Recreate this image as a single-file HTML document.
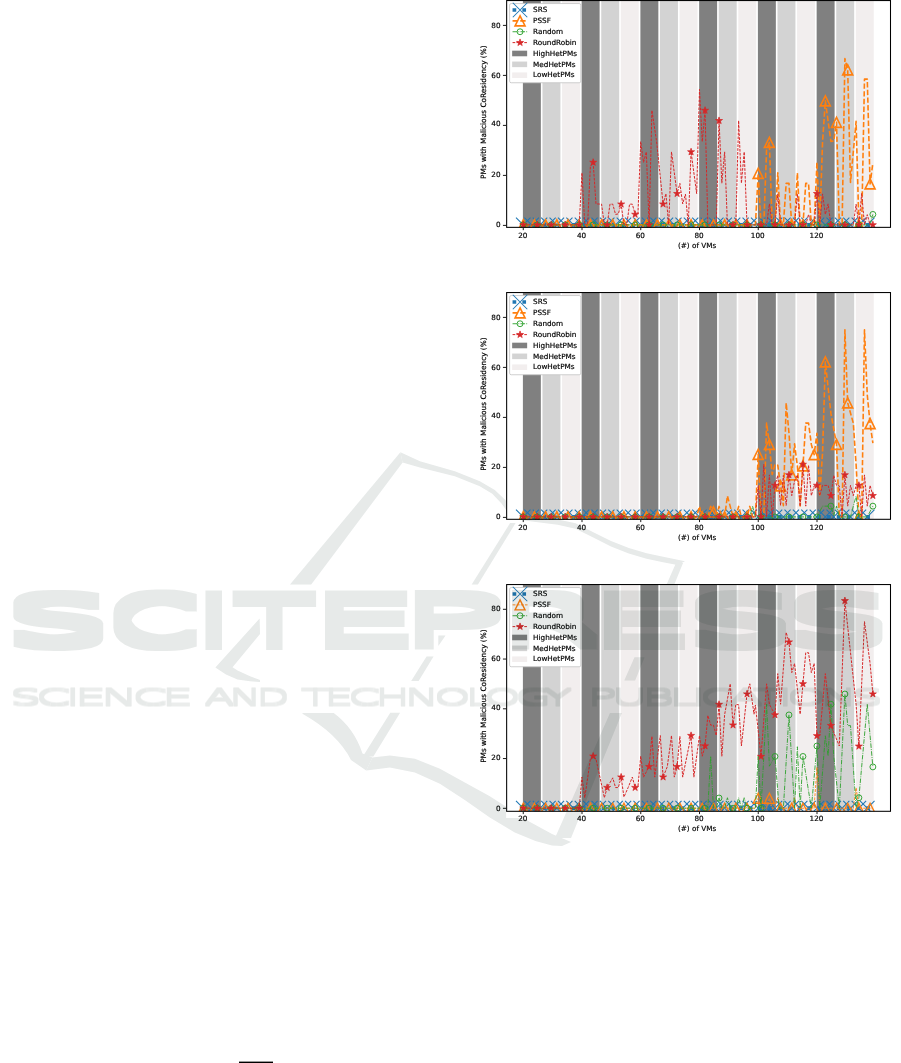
<!DOCTYPE html>
<html lang="en">
<head>
<meta charset="utf-8">
<title>Figure page</title>
<style>
html,body{margin:0;padding:0;background:#fff;}
body{width:901px;height:1063px;overflow:hidden;position:relative;}
svg{position:absolute;left:0;top:0;display:block;}
svg{font-family:"DejaVu Sans","Liberation Sans",sans-serif;font-size:7.25px;fill:#000;}
.wt{font-weight:200;}
.ct text{stroke:#000;stroke-width:0.18px;}
</style>
</head>
<body>
<svg width="901" height="1063" viewBox="0 0 901 1063">
<rect width="901" height="1063" fill="#fff"/>
<g id="chart1" class="ct">
<clipPath id="c1"><rect x="506.65" y="0.55" width="383.85" height="226.8"/></clipPath>
<g clip-path="url(#c1)">
<rect x="522.9" y="-1.45" width="17.95" height="228.8" fill="#808080"/>
<rect x="542.48" y="-1.45" width="17.95" height="228.8" fill="#d3d3d3"/>
<rect x="562.07" y="-1.45" width="17.95" height="228.8" fill="#f2eeee"/>
<rect x="581.65" y="-1.45" width="17.95" height="228.8" fill="#808080"/>
<rect x="601.23" y="-1.45" width="17.95" height="228.8" fill="#d3d3d3"/>
<rect x="620.82" y="-1.45" width="17.95" height="228.8" fill="#f2eeee"/>
<rect x="640.4" y="-1.45" width="17.95" height="228.8" fill="#808080"/>
<rect x="659.98" y="-1.45" width="17.95" height="228.8" fill="#d3d3d3"/>
<rect x="679.57" y="-1.45" width="17.95" height="228.8" fill="#f2eeee"/>
<rect x="699.15" y="-1.45" width="17.95" height="228.8" fill="#808080"/>
<rect x="718.73" y="-1.45" width="17.95" height="228.8" fill="#d3d3d3"/>
<rect x="738.32" y="-1.45" width="17.95" height="228.8" fill="#f2eeee"/>
<rect x="757.9" y="-1.45" width="17.95" height="228.8" fill="#808080"/>
<rect x="777.48" y="-1.45" width="17.95" height="228.8" fill="#d3d3d3"/>
<rect x="797.07" y="-1.45" width="17.95" height="228.8" fill="#f2eeee"/>
<rect x="816.65" y="-1.45" width="17.95" height="228.8" fill="#808080"/>
<rect x="836.23" y="-1.45" width="17.95" height="228.8" fill="#d3d3d3"/>
<rect x="855.82" y="-1.45" width="17.95" height="228.8" fill="#f2eeee"/>
<polyline points="523.25,224.9 872.88,224.9" fill="none" stroke="#1f77b4" stroke-width="3.7" stroke-dasharray="3.7 6.1" stroke-linejoin="round"/>
<path d="M516,217.65L530.5,232.15M516,232.15L530.5,217.65" stroke="#1f77b4" stroke-width="1.05" fill="none"/>
<path d="M524.39,217.65L538.89,232.15M524.39,232.15L538.89,217.65" stroke="#1f77b4" stroke-width="1.05" fill="none"/>
<path d="M532.78,217.65L547.28,232.15M532.78,232.15L547.28,217.65" stroke="#1f77b4" stroke-width="1.05" fill="none"/>
<path d="M541.17,217.65L555.67,232.15M541.17,232.15L555.67,217.65" stroke="#1f77b4" stroke-width="1.05" fill="none"/>
<path d="M549.56,217.65L564.06,232.15M549.56,232.15L564.06,217.65" stroke="#1f77b4" stroke-width="1.05" fill="none"/>
<path d="M557.96,217.65L572.46,232.15M557.96,232.15L572.46,217.65" stroke="#1f77b4" stroke-width="1.05" fill="none"/>
<path d="M566.35,217.65L580.85,232.15M566.35,232.15L580.85,217.65" stroke="#1f77b4" stroke-width="1.05" fill="none"/>
<path d="M574.74,217.65L589.24,232.15M574.74,232.15L589.24,217.65" stroke="#1f77b4" stroke-width="1.05" fill="none"/>
<path d="M583.13,217.65L597.63,232.15M583.13,232.15L597.63,217.65" stroke="#1f77b4" stroke-width="1.05" fill="none"/>
<path d="M591.52,217.65L606.02,232.15M591.52,232.15L606.02,217.65" stroke="#1f77b4" stroke-width="1.05" fill="none"/>
<path d="M599.91,217.65L614.41,232.15M599.91,232.15L614.41,217.65" stroke="#1f77b4" stroke-width="1.05" fill="none"/>
<path d="M608.3,217.65L622.8,232.15M608.3,232.15L622.8,217.65" stroke="#1f77b4" stroke-width="1.05" fill="none"/>
<path d="M616.69,217.65L631.19,232.15M616.69,232.15L631.19,217.65" stroke="#1f77b4" stroke-width="1.05" fill="none"/>
<path d="M625.08,217.65L639.58,232.15M625.08,232.15L639.58,217.65" stroke="#1f77b4" stroke-width="1.05" fill="none"/>
<path d="M633.47,217.65L647.97,232.15M633.47,232.15L647.97,217.65" stroke="#1f77b4" stroke-width="1.05" fill="none"/>
<path d="M641.87,217.65L656.37,232.15M641.87,232.15L656.37,217.65" stroke="#1f77b4" stroke-width="1.05" fill="none"/>
<path d="M650.26,217.65L664.76,232.15M650.26,232.15L664.76,217.65" stroke="#1f77b4" stroke-width="1.05" fill="none"/>
<path d="M658.65,217.65L673.15,232.15M658.65,232.15L673.15,217.65" stroke="#1f77b4" stroke-width="1.05" fill="none"/>
<path d="M667.04,217.65L681.54,232.15M667.04,232.15L681.54,217.65" stroke="#1f77b4" stroke-width="1.05" fill="none"/>
<path d="M675.43,217.65L689.93,232.15M675.43,232.15L689.93,217.65" stroke="#1f77b4" stroke-width="1.05" fill="none"/>
<path d="M683.82,217.65L698.32,232.15M683.82,232.15L698.32,217.65" stroke="#1f77b4" stroke-width="1.05" fill="none"/>
<path d="M692.21,217.65L706.71,232.15M692.21,232.15L706.71,217.65" stroke="#1f77b4" stroke-width="1.05" fill="none"/>
<path d="M700.6,217.65L715.1,232.15M700.6,232.15L715.1,217.65" stroke="#1f77b4" stroke-width="1.05" fill="none"/>
<path d="M708.99,217.65L723.49,232.15M708.99,232.15L723.49,217.65" stroke="#1f77b4" stroke-width="1.05" fill="none"/>
<path d="M717.38,217.65L731.88,232.15M717.38,232.15L731.88,217.65" stroke="#1f77b4" stroke-width="1.05" fill="none"/>
<path d="M725.77,217.65L740.27,232.15M725.77,232.15L740.27,217.65" stroke="#1f77b4" stroke-width="1.05" fill="none"/>
<path d="M734.17,217.65L748.67,232.15M734.17,232.15L748.67,217.65" stroke="#1f77b4" stroke-width="1.05" fill="none"/>
<path d="M742.56,217.65L757.06,232.15M742.56,232.15L757.06,217.65" stroke="#1f77b4" stroke-width="1.05" fill="none"/>
<path d="M750.95,217.65L765.45,232.15M750.95,232.15L765.45,217.65" stroke="#1f77b4" stroke-width="1.05" fill="none"/>
<path d="M759.34,217.65L773.84,232.15M759.34,232.15L773.84,217.65" stroke="#1f77b4" stroke-width="1.05" fill="none"/>
<path d="M767.73,217.65L782.23,232.15M767.73,232.15L782.23,217.65" stroke="#1f77b4" stroke-width="1.05" fill="none"/>
<path d="M776.12,217.65L790.62,232.15M776.12,232.15L790.62,217.65" stroke="#1f77b4" stroke-width="1.05" fill="none"/>
<path d="M784.51,217.65L799.01,232.15M784.51,232.15L799.01,217.65" stroke="#1f77b4" stroke-width="1.05" fill="none"/>
<path d="M792.9,217.65L807.4,232.15M792.9,232.15L807.4,217.65" stroke="#1f77b4" stroke-width="1.05" fill="none"/>
<path d="M801.29,217.65L815.79,232.15M801.29,232.15L815.79,217.65" stroke="#1f77b4" stroke-width="1.05" fill="none"/>
<path d="M809.68,217.65L824.18,232.15M809.68,232.15L824.18,217.65" stroke="#1f77b4" stroke-width="1.05" fill="none"/>
<path d="M818.08,217.65L832.58,232.15M818.08,232.15L832.58,217.65" stroke="#1f77b4" stroke-width="1.05" fill="none"/>
<path d="M826.47,217.65L840.97,232.15M826.47,232.15L840.97,217.65" stroke="#1f77b4" stroke-width="1.05" fill="none"/>
<path d="M834.86,217.65L849.36,232.15M834.86,232.15L849.36,217.65" stroke="#1f77b4" stroke-width="1.05" fill="none"/>
<path d="M843.25,217.65L857.75,232.15M843.25,232.15L857.75,217.65" stroke="#1f77b4" stroke-width="1.05" fill="none"/>
<path d="M851.64,217.65L866.14,232.15M851.64,232.15L866.14,217.65" stroke="#1f77b4" stroke-width="1.05" fill="none"/>
<path d="M860.03,217.65L874.53,232.15M860.03,232.15L874.53,217.65" stroke="#1f77b4" stroke-width="1.05" fill="none"/>
<polyline points="523.25,224.9 755.4,224.9 758.2,173.4 761,224.9 763.79,224.9 766.59,149.4 769.39,142.4 772.18,224.9 774.98,224.9 777.78,172.9 780.57,224.9 783.37,224.9 786.17,183.4 788.97,183.4 791.76,224.9 794.56,224.9 797.36,172.9 800.15,224.9 802.95,224.9 805.75,183.4 808.54,183.4 811.34,224.9 814.14,224.9 816.93,162.15 819.73,224.9 822.53,142.4 825.33,100.9 830.92,141.4 833.72,140.9 836.51,122.4 839.31,224.9 842.11,224.9 844.9,58.65 847.7,69.9 850.5,182.4 856.09,121.4 858.89,224.9 861.69,224.9 864.48,79.15 867.28,79.15 870.08,183.9 872.88,162.9" fill="none" stroke="#ff7f0e" stroke-width="1.6" stroke-dasharray="5.4 2.3" stroke-linejoin="round"/>
<path d="M523.25,219.9L518.25,229.9L528.25,229.9Z" stroke="#ff7f0e" stroke-width="1.6" fill="none" stroke-linejoin="miter"/>
<path d="M534.44,219.9L529.44,229.9L539.44,229.9Z" stroke="#ff7f0e" stroke-width="1.6" fill="none" stroke-linejoin="miter"/>
<path d="M545.63,219.9L540.63,229.9L550.63,229.9Z" stroke="#ff7f0e" stroke-width="1.6" fill="none" stroke-linejoin="miter"/>
<path d="M556.81,219.9L551.81,229.9L561.81,229.9Z" stroke="#ff7f0e" stroke-width="1.6" fill="none" stroke-linejoin="miter"/>
<path d="M568,219.9L563,229.9L573,229.9Z" stroke="#ff7f0e" stroke-width="1.6" fill="none" stroke-linejoin="miter"/>
<path d="M579.19,219.9L574.19,229.9L584.19,229.9Z" stroke="#ff7f0e" stroke-width="1.6" fill="none" stroke-linejoin="miter"/>
<path d="M590.38,219.9L585.38,229.9L595.38,229.9Z" stroke="#ff7f0e" stroke-width="1.6" fill="none" stroke-linejoin="miter"/>
<path d="M601.57,219.9L596.57,229.9L606.57,229.9Z" stroke="#ff7f0e" stroke-width="1.6" fill="none" stroke-linejoin="miter"/>
<path d="M612.75,219.9L607.75,229.9L617.75,229.9Z" stroke="#ff7f0e" stroke-width="1.6" fill="none" stroke-linejoin="miter"/>
<path d="M623.94,219.9L618.94,229.9L628.94,229.9Z" stroke="#ff7f0e" stroke-width="1.6" fill="none" stroke-linejoin="miter"/>
<path d="M635.13,219.9L630.13,229.9L640.13,229.9Z" stroke="#ff7f0e" stroke-width="1.6" fill="none" stroke-linejoin="miter"/>
<path d="M646.32,219.9L641.32,229.9L651.32,229.9Z" stroke="#ff7f0e" stroke-width="1.6" fill="none" stroke-linejoin="miter"/>
<path d="M657.51,219.9L652.51,229.9L662.51,229.9Z" stroke="#ff7f0e" stroke-width="1.6" fill="none" stroke-linejoin="miter"/>
<path d="M668.69,219.9L663.69,229.9L673.69,229.9Z" stroke="#ff7f0e" stroke-width="1.6" fill="none" stroke-linejoin="miter"/>
<path d="M679.88,219.9L674.88,229.9L684.88,229.9Z" stroke="#ff7f0e" stroke-width="1.6" fill="none" stroke-linejoin="miter"/>
<path d="M691.07,219.9L686.07,229.9L696.07,229.9Z" stroke="#ff7f0e" stroke-width="1.6" fill="none" stroke-linejoin="miter"/>
<path d="M702.26,219.9L697.26,229.9L707.26,229.9Z" stroke="#ff7f0e" stroke-width="1.6" fill="none" stroke-linejoin="miter"/>
<path d="M713.45,219.9L708.45,229.9L718.45,229.9Z" stroke="#ff7f0e" stroke-width="1.6" fill="none" stroke-linejoin="miter"/>
<path d="M724.63,219.9L719.63,229.9L729.63,229.9Z" stroke="#ff7f0e" stroke-width="1.6" fill="none" stroke-linejoin="miter"/>
<path d="M735.82,219.9L730.82,229.9L740.82,229.9Z" stroke="#ff7f0e" stroke-width="1.6" fill="none" stroke-linejoin="miter"/>
<path d="M747.01,219.9L742.01,229.9L752.01,229.9Z" stroke="#ff7f0e" stroke-width="1.6" fill="none" stroke-linejoin="miter"/>
<path d="M758.2,168.4L753.2,178.4L763.2,178.4Z" stroke="#ff7f0e" stroke-width="1.6" fill="none" stroke-linejoin="miter"/>
<path d="M769.39,137.4L764.39,147.4L774.39,147.4Z" stroke="#ff7f0e" stroke-width="1.6" fill="none" stroke-linejoin="miter"/>
<path d="M780.57,219.9L775.57,229.9L785.57,229.9Z" stroke="#ff7f0e" stroke-width="1.6" fill="none" stroke-linejoin="miter"/>
<path d="M791.76,219.9L786.76,229.9L796.76,229.9Z" stroke="#ff7f0e" stroke-width="1.6" fill="none" stroke-linejoin="miter"/>
<path d="M802.95,219.9L797.95,229.9L807.95,229.9Z" stroke="#ff7f0e" stroke-width="1.6" fill="none" stroke-linejoin="miter"/>
<path d="M814.14,219.9L809.14,229.9L819.14,229.9Z" stroke="#ff7f0e" stroke-width="1.6" fill="none" stroke-linejoin="miter"/>
<path d="M825.33,95.9L820.33,105.9L830.33,105.9Z" stroke="#ff7f0e" stroke-width="1.6" fill="none" stroke-linejoin="miter"/>
<path d="M836.51,117.4L831.51,127.4L841.51,127.4Z" stroke="#ff7f0e" stroke-width="1.6" fill="none" stroke-linejoin="miter"/>
<path d="M847.7,64.9L842.7,74.9L852.7,74.9Z" stroke="#ff7f0e" stroke-width="1.6" fill="none" stroke-linejoin="miter"/>
<path d="M858.89,219.9L853.89,229.9L863.89,229.9Z" stroke="#ff7f0e" stroke-width="1.6" fill="none" stroke-linejoin="miter"/>
<path d="M870.08,178.9L865.08,188.9L875.08,188.9Z" stroke="#ff7f0e" stroke-width="1.6" fill="none" stroke-linejoin="miter"/>
<polyline points="523.25,224.9 870.08,224.9 872.88,214.4" fill="none" stroke="#2ca02c" stroke-width="0.9" stroke-dasharray="4.6 1.2 0.9 1.2" stroke-linejoin="round"/>
<circle cx="523.25" cy="224.9" r="2.95" stroke="#2ca02c" stroke-width="0.95" fill="none"/>
<circle cx="537.24" cy="224.9" r="2.95" stroke="#2ca02c" stroke-width="0.95" fill="none"/>
<circle cx="551.22" cy="224.9" r="2.95" stroke="#2ca02c" stroke-width="0.95" fill="none"/>
<circle cx="565.21" cy="224.9" r="2.95" stroke="#2ca02c" stroke-width="0.95" fill="none"/>
<circle cx="579.19" cy="224.9" r="2.95" stroke="#2ca02c" stroke-width="0.95" fill="none"/>
<circle cx="593.17" cy="224.9" r="2.95" stroke="#2ca02c" stroke-width="0.95" fill="none"/>
<circle cx="607.16" cy="224.9" r="2.95" stroke="#2ca02c" stroke-width="0.95" fill="none"/>
<circle cx="621.14" cy="224.9" r="2.95" stroke="#2ca02c" stroke-width="0.95" fill="none"/>
<circle cx="635.13" cy="224.9" r="2.95" stroke="#2ca02c" stroke-width="0.95" fill="none"/>
<circle cx="649.12" cy="224.9" r="2.95" stroke="#2ca02c" stroke-width="0.95" fill="none"/>
<circle cx="663.1" cy="224.9" r="2.95" stroke="#2ca02c" stroke-width="0.95" fill="none"/>
<circle cx="677.09" cy="224.9" r="2.95" stroke="#2ca02c" stroke-width="0.95" fill="none"/>
<circle cx="691.07" cy="224.9" r="2.95" stroke="#2ca02c" stroke-width="0.95" fill="none"/>
<circle cx="705.06" cy="224.9" r="2.95" stroke="#2ca02c" stroke-width="0.95" fill="none"/>
<circle cx="719.04" cy="224.9" r="2.95" stroke="#2ca02c" stroke-width="0.95" fill="none"/>
<circle cx="733.02" cy="224.9" r="2.95" stroke="#2ca02c" stroke-width="0.95" fill="none"/>
<circle cx="747.01" cy="224.9" r="2.95" stroke="#2ca02c" stroke-width="0.95" fill="none"/>
<circle cx="761" cy="224.9" r="2.95" stroke="#2ca02c" stroke-width="0.95" fill="none"/>
<circle cx="774.98" cy="224.9" r="2.95" stroke="#2ca02c" stroke-width="0.95" fill="none"/>
<circle cx="788.97" cy="224.9" r="2.95" stroke="#2ca02c" stroke-width="0.95" fill="none"/>
<circle cx="802.95" cy="224.9" r="2.95" stroke="#2ca02c" stroke-width="0.95" fill="none"/>
<circle cx="816.93" cy="224.9" r="2.95" stroke="#2ca02c" stroke-width="0.95" fill="none"/>
<circle cx="830.92" cy="224.9" r="2.95" stroke="#2ca02c" stroke-width="0.95" fill="none"/>
<circle cx="844.9" cy="224.9" r="2.95" stroke="#2ca02c" stroke-width="0.95" fill="none"/>
<circle cx="858.89" cy="224.9" r="2.95" stroke="#2ca02c" stroke-width="0.95" fill="none"/>
<circle cx="872.88" cy="214.4" r="2.95" stroke="#2ca02c" stroke-width="0.95" fill="none"/>
<polyline points="523.25,224.9 579.19,224.9 581.99,172.9 584.78,224.9 587.58,224.9 590.38,166.15 593.17,162.4 595.97,203.9 601.57,204.15 604.36,224.9 607.16,224.9 609.96,204.15 612.75,204.15 615.55,214.4 618.35,213.9 621.14,204.15 623.94,224.9 626.74,224.9 629.54,204.15 632.33,204.15 635.13,214.4 637.93,214.4 640.72,141.65 643.52,162.4 646.32,151.9 649.12,224.9 651.91,110.4 656.56,141.15 663.1,204.15 665.9,193.65 668.69,224.9 671.49,151.9 677.09,193.65 679.88,183.4 682.68,203.9 685.48,194.15 688.27,224.9 691.07,151.9 696.66,193.65 699.46,89.4 702.26,141.65 705.06,110.4 707.85,224.9 716.24,224.9 719.04,120.65 721.84,183.15 724.63,151.9 727.43,224.9 735.82,224.9 738.62,120.65 741.42,183.15 744.21,151.9 747.01,224.9 766.59,224.9 769.39,203.9 772.18,224.9 774.98,224.9 777.78,193.9 780.57,224.9 794.56,224.9 797.36,193.9 800.15,224.9 805.75,224.9 808.54,214.4 811.34,224.9 814.14,224.9 816.93,193.65 819.73,224.9 822.53,193.9 825.33,214.4 828.12,203.9 830.92,224.9 853.3,224.9 856.09,204.15 858.89,224.9 861.69,193.4 864.48,224.9 867.28,214.65 870.08,224.9 872.88,224.9" fill="none" stroke="#d62728" stroke-width="1.0" stroke-dasharray="2.7 1.2" stroke-linejoin="round"/>
<path d="M523.25,221.2L524.08,223.76L526.77,223.76L524.59,225.34L525.42,227.89L523.25,226.31L521.08,227.89L521.91,225.34L519.73,223.76L522.42,223.76Z" fill="#d62728" stroke="#d62728" stroke-width="0.7" stroke-linejoin="miter"/>
<path d="M537.24,221.2L538.07,223.76L540.75,223.76L538.58,225.34L539.41,227.89L537.24,226.31L535.06,227.89L535.89,225.34L533.72,223.76L536.4,223.76Z" fill="#d62728" stroke="#d62728" stroke-width="0.7" stroke-linejoin="miter"/>
<path d="M551.22,221.2L552.05,223.76L554.74,223.76L552.56,225.34L553.39,227.89L551.22,226.31L549.05,227.89L549.88,225.34L547.7,223.76L550.39,223.76Z" fill="#d62728" stroke="#d62728" stroke-width="0.7" stroke-linejoin="miter"/>
<path d="M565.21,221.2L566.04,223.76L568.72,223.76L566.55,225.34L567.38,227.89L565.21,226.31L563.03,227.89L563.86,225.34L561.69,223.76L564.37,223.76Z" fill="#d62728" stroke="#d62728" stroke-width="0.7" stroke-linejoin="miter"/>
<path d="M579.19,221.2L580.02,223.76L582.71,223.76L580.53,225.34L581.36,227.89L579.19,226.31L577.02,227.89L577.85,225.34L575.67,223.76L578.36,223.76Z" fill="#d62728" stroke="#d62728" stroke-width="0.7" stroke-linejoin="miter"/>
<path d="M593.17,158.7L594.01,161.26L596.69,161.26L594.52,162.84L595.35,165.39L593.17,163.81L591,165.39L591.83,162.84L589.66,161.26L592.34,161.26Z" fill="#d62728" stroke="#d62728" stroke-width="0.7" stroke-linejoin="miter"/>
<path d="M607.16,221.2L607.99,223.76L610.68,223.76L608.5,225.34L609.33,227.89L607.16,226.31L604.99,227.89L605.82,225.34L603.64,223.76L606.33,223.76Z" fill="#d62728" stroke="#d62728" stroke-width="0.7" stroke-linejoin="miter"/>
<path d="M621.14,200.45L621.98,203.01L624.66,203.01L622.49,204.59L623.32,207.14L621.14,205.56L618.97,207.14L619.8,204.59L617.63,203.01L620.31,203.01Z" fill="#d62728" stroke="#d62728" stroke-width="0.7" stroke-linejoin="miter"/>
<path d="M635.13,210.7L635.96,213.26L638.65,213.26L636.47,214.84L637.3,217.39L635.13,215.81L632.96,217.39L633.79,214.84L631.61,213.26L634.3,213.26Z" fill="#d62728" stroke="#d62728" stroke-width="0.7" stroke-linejoin="miter"/>
<path d="M649.12,221.2L649.95,223.76L652.63,223.76L650.46,225.34L651.29,227.89L649.12,226.31L646.94,227.89L647.77,225.34L645.6,223.76L648.28,223.76Z" fill="#d62728" stroke="#d62728" stroke-width="0.7" stroke-linejoin="miter"/>
<path d="M663.1,200.45L663.93,203.01L666.62,203.01L664.44,204.59L665.27,207.14L663.1,205.56L660.93,207.14L661.76,204.59L659.58,203.01L662.27,203.01Z" fill="#d62728" stroke="#d62728" stroke-width="0.7" stroke-linejoin="miter"/>
<path d="M677.09,189.95L677.92,192.51L680.6,192.51L678.43,194.09L679.26,196.64L677.09,195.06L674.91,196.64L675.74,194.09L673.57,192.51L676.25,192.51Z" fill="#d62728" stroke="#d62728" stroke-width="0.7" stroke-linejoin="miter"/>
<path d="M691.07,148.2L691.9,150.76L694.59,150.76L692.41,152.34L693.24,154.89L691.07,153.31L688.9,154.89L689.73,152.34L687.55,150.76L690.24,150.76Z" fill="#d62728" stroke="#d62728" stroke-width="0.7" stroke-linejoin="miter"/>
<path d="M705.06,106.7L705.89,109.26L708.57,109.26L706.4,110.84L707.23,113.39L705.06,111.81L702.88,113.39L703.71,110.84L701.54,109.26L704.22,109.26Z" fill="#d62728" stroke="#d62728" stroke-width="0.7" stroke-linejoin="miter"/>
<path d="M719.04,116.95L719.87,119.51L722.56,119.51L720.38,121.09L721.21,123.64L719.04,122.06L716.87,123.64L717.7,121.09L715.52,119.51L718.21,119.51Z" fill="#d62728" stroke="#d62728" stroke-width="0.7" stroke-linejoin="miter"/>
<path d="M733.02,221.2L733.86,223.76L736.54,223.76L734.37,225.34L735.2,227.89L733.02,226.31L730.85,227.89L731.68,225.34L729.51,223.76L732.19,223.76Z" fill="#d62728" stroke="#d62728" stroke-width="0.7" stroke-linejoin="miter"/>
<path d="M747.01,221.2L747.84,223.76L750.53,223.76L748.35,225.34L749.18,227.89L747.01,226.31L744.84,227.89L745.67,225.34L743.49,223.76L746.18,223.76Z" fill="#d62728" stroke="#d62728" stroke-width="0.7" stroke-linejoin="miter"/>
<path d="M761,221.2L761.83,223.76L764.51,223.76L762.34,225.34L763.17,227.89L761,226.31L758.82,227.89L759.65,225.34L757.48,223.76L760.16,223.76Z" fill="#d62728" stroke="#d62728" stroke-width="0.7" stroke-linejoin="miter"/>
<path d="M774.98,221.2L775.81,223.76L778.5,223.76L776.32,225.34L777.15,227.89L774.98,226.31L772.81,227.89L773.64,225.34L771.46,223.76L774.15,223.76Z" fill="#d62728" stroke="#d62728" stroke-width="0.7" stroke-linejoin="miter"/>
<path d="M788.97,221.2L789.8,223.76L792.48,223.76L790.31,225.34L791.14,227.89L788.97,226.31L786.79,227.89L787.62,225.34L785.45,223.76L788.13,223.76Z" fill="#d62728" stroke="#d62728" stroke-width="0.7" stroke-linejoin="miter"/>
<path d="M802.95,221.2L803.78,223.76L806.47,223.76L804.29,225.34L805.12,227.89L802.95,226.31L800.78,227.89L801.61,225.34L799.43,223.76L802.12,223.76Z" fill="#d62728" stroke="#d62728" stroke-width="0.7" stroke-linejoin="miter"/>
<path d="M816.93,189.95L817.77,192.51L820.45,192.51L818.28,194.09L819.11,196.64L816.93,195.06L814.76,196.64L815.59,194.09L813.42,192.51L816.1,192.51Z" fill="#d62728" stroke="#d62728" stroke-width="0.7" stroke-linejoin="miter"/>
<path d="M830.92,221.2L831.75,223.76L834.44,223.76L832.26,225.34L833.09,227.89L830.92,226.31L828.75,227.89L829.58,225.34L827.4,223.76L830.09,223.76Z" fill="#d62728" stroke="#d62728" stroke-width="0.7" stroke-linejoin="miter"/>
<path d="M844.9,221.2L845.74,223.76L848.42,223.76L846.25,225.34L847.08,227.89L844.9,226.31L842.73,227.89L843.56,225.34L841.39,223.76L844.07,223.76Z" fill="#d62728" stroke="#d62728" stroke-width="0.7" stroke-linejoin="miter"/>
<path d="M858.89,221.2L859.72,223.76L862.41,223.76L860.23,225.34L861.06,227.89L858.89,226.31L856.72,227.89L857.55,225.34L855.37,223.76L858.06,223.76Z" fill="#d62728" stroke="#d62728" stroke-width="0.7" stroke-linejoin="miter"/>
<path d="M872.88,221.2L873.71,223.76L876.39,223.76L874.22,225.34L875.05,227.89L872.88,226.31L870.7,227.89L871.53,225.34L869.36,223.76L872.04,223.76Z" fill="#d62728" stroke="#d62728" stroke-width="0.7" stroke-linejoin="miter"/>
</g>
<rect x="506.65" y="0.55" width="383.85" height="226.8" fill="none" stroke="#000" stroke-width="1.05"/>
<path d="M506.15,225.4h-3.2M506.15,175.4h-3.2M506.15,125.4h-3.2M506.15,75.4h-3.2M506.15,25.4h-3.2M523.25,227.85v2.3M582,227.85v2.3M640.75,227.85v2.3M699.5,227.85v2.3M758.25,227.85v2.3M817,227.85v2.3" stroke="#000" stroke-width="0.9" fill="none"/>
<text x="500.6" y="227" text-anchor="end">0</text>
<text x="500.6" y="177" text-anchor="end">20</text>
<text x="500.6" y="126" text-anchor="end">40</text>
<text x="500.6" y="78" text-anchor="end">60</text>
<text x="500.6" y="28" text-anchor="end">80</text>
<text x="522.75" y="238" text-anchor="middle">20</text>
<text x="581.5" y="238" text-anchor="middle">40</text>
<text x="640.25" y="238" text-anchor="middle">60</text>
<text x="699" y="238" text-anchor="middle">80</text>
<text x="757.75" y="238" text-anchor="middle">100</text>
<text x="816.5" y="238" text-anchor="middle">120</text>
<text x="697.08" y="248" text-anchor="middle">(#) of VMs</text>
<text transform="translate(486.2,112.15) rotate(-90)" text-anchor="middle" style="font-size:7.36px">PMs with Malicious CoResidency (%)</text>
<rect x="509.6" y="3.55" width="71.2" height="79.2" rx="1.6" ry="1.6" fill="#fff" stroke="#c4c4c4" stroke-opacity="0.9" stroke-width="0.9"/>
<g clip-path="url(#c1)">
<path d="M512.55,10H527.55" stroke="#1f77b4" stroke-width="3.7" stroke-dasharray="3.7 6.1" fill="none"/>
<path d="M512.8,2.75L527.3,17.25M512.8,17.25L527.3,2.75" stroke="#1f77b4" stroke-width="1.05" fill="none"/>
<path d="M512.55,20.87H527.55" stroke="#ff7f0e" stroke-width="1.6" stroke-dasharray="5.4 2.3" fill="none"/>
<path d="M520.05,15.87L515.05,25.87L525.05,25.87Z" stroke="#ff7f0e" stroke-width="1.6" fill="none" stroke-linejoin="miter"/>
<path d="M512.55,31.74H527.55" stroke="#2ca02c" stroke-width="0.9" stroke-dasharray="4.6 1.2 0.9 1.2" fill="none"/>
<circle cx="520.05" cy="31.74" r="2.95" stroke="#2ca02c" stroke-width="0.95" fill="none"/>
<path d="M512.55,42.61H527.55" stroke="#d62728" stroke-width="1.0" stroke-dasharray="2.7 1.2" fill="none"/>
<path d="M520.05,38.91L520.88,41.47L523.57,41.47L521.39,43.05L522.22,45.6L520.05,44.02L517.88,45.6L518.71,43.05L516.53,41.47L519.22,41.47Z" fill="#d62728" stroke="#d62728" stroke-width="0.7" stroke-linejoin="miter"/>
</g>
<rect x="512.15" y="50.68" width="15" height="5.6" fill="#808080"/>
<rect x="512.15" y="61.55" width="15" height="5.6" fill="#d3d3d3"/>
<rect x="512.15" y="72.42" width="15" height="5.6" fill="#f2eeee"/>
<text x="533.1" y="12">SRS</text>
<text x="533.1" y="23">PSSF</text>
<text x="533.1" y="34">Random</text>
<text x="533.1" y="45">RoundRobin</text>
<text x="533.1" y="56">HighHetPMs</text>
<text x="533.1" y="67">MedHetPMs</text>
<text x="533.1" y="77">LowHetPMs</text>
</g>
<g id="chart2" class="ct">
<clipPath id="c2"><rect x="506.65" y="292.55" width="383.85" height="226.75"/></clipPath>
<g clip-path="url(#c2)">
<rect x="522.9" y="290.55" width="17.95" height="228.75" fill="#808080"/>
<rect x="542.48" y="290.55" width="17.95" height="228.75" fill="#d3d3d3"/>
<rect x="562.07" y="290.55" width="17.95" height="228.75" fill="#f2eeee"/>
<rect x="581.65" y="290.55" width="17.95" height="228.75" fill="#808080"/>
<rect x="601.23" y="290.55" width="17.95" height="228.75" fill="#d3d3d3"/>
<rect x="620.82" y="290.55" width="17.95" height="228.75" fill="#f2eeee"/>
<rect x="640.4" y="290.55" width="17.95" height="228.75" fill="#808080"/>
<rect x="659.98" y="290.55" width="17.95" height="228.75" fill="#d3d3d3"/>
<rect x="679.57" y="290.55" width="17.95" height="228.75" fill="#f2eeee"/>
<rect x="699.15" y="290.55" width="17.95" height="228.75" fill="#808080"/>
<rect x="718.73" y="290.55" width="17.95" height="228.75" fill="#d3d3d3"/>
<rect x="738.32" y="290.55" width="17.95" height="228.75" fill="#f2eeee"/>
<rect x="757.9" y="290.55" width="17.95" height="228.75" fill="#808080"/>
<rect x="777.48" y="290.55" width="17.95" height="228.75" fill="#d3d3d3"/>
<rect x="797.07" y="290.55" width="17.95" height="228.75" fill="#f2eeee"/>
<rect x="816.65" y="290.55" width="17.95" height="228.75" fill="#808080"/>
<rect x="836.23" y="290.55" width="17.95" height="228.75" fill="#d3d3d3"/>
<rect x="855.82" y="290.55" width="17.95" height="228.75" fill="#f2eeee"/>
<polyline points="523.25,516.9 872.88,516.9" fill="none" stroke="#1f77b4" stroke-width="3.7" stroke-dasharray="3.7 6.1" stroke-linejoin="round"/>
<path d="M516,509.65L530.5,524.15M516,524.15L530.5,509.65" stroke="#1f77b4" stroke-width="1.05" fill="none"/>
<path d="M524.39,509.65L538.89,524.15M524.39,524.15L538.89,509.65" stroke="#1f77b4" stroke-width="1.05" fill="none"/>
<path d="M532.78,509.65L547.28,524.15M532.78,524.15L547.28,509.65" stroke="#1f77b4" stroke-width="1.05" fill="none"/>
<path d="M541.17,509.65L555.67,524.15M541.17,524.15L555.67,509.65" stroke="#1f77b4" stroke-width="1.05" fill="none"/>
<path d="M549.56,509.65L564.06,524.15M549.56,524.15L564.06,509.65" stroke="#1f77b4" stroke-width="1.05" fill="none"/>
<path d="M557.96,509.65L572.46,524.15M557.96,524.15L572.46,509.65" stroke="#1f77b4" stroke-width="1.05" fill="none"/>
<path d="M566.35,509.65L580.85,524.15M566.35,524.15L580.85,509.65" stroke="#1f77b4" stroke-width="1.05" fill="none"/>
<path d="M574.74,509.65L589.24,524.15M574.74,524.15L589.24,509.65" stroke="#1f77b4" stroke-width="1.05" fill="none"/>
<path d="M583.13,509.65L597.63,524.15M583.13,524.15L597.63,509.65" stroke="#1f77b4" stroke-width="1.05" fill="none"/>
<path d="M591.52,509.65L606.02,524.15M591.52,524.15L606.02,509.65" stroke="#1f77b4" stroke-width="1.05" fill="none"/>
<path d="M599.91,509.65L614.41,524.15M599.91,524.15L614.41,509.65" stroke="#1f77b4" stroke-width="1.05" fill="none"/>
<path d="M608.3,509.65L622.8,524.15M608.3,524.15L622.8,509.65" stroke="#1f77b4" stroke-width="1.05" fill="none"/>
<path d="M616.69,509.65L631.19,524.15M616.69,524.15L631.19,509.65" stroke="#1f77b4" stroke-width="1.05" fill="none"/>
<path d="M625.08,509.65L639.58,524.15M625.08,524.15L639.58,509.65" stroke="#1f77b4" stroke-width="1.05" fill="none"/>
<path d="M633.47,509.65L647.97,524.15M633.47,524.15L647.97,509.65" stroke="#1f77b4" stroke-width="1.05" fill="none"/>
<path d="M641.87,509.65L656.37,524.15M641.87,524.15L656.37,509.65" stroke="#1f77b4" stroke-width="1.05" fill="none"/>
<path d="M650.26,509.65L664.76,524.15M650.26,524.15L664.76,509.65" stroke="#1f77b4" stroke-width="1.05" fill="none"/>
<path d="M658.65,509.65L673.15,524.15M658.65,524.15L673.15,509.65" stroke="#1f77b4" stroke-width="1.05" fill="none"/>
<path d="M667.04,509.65L681.54,524.15M667.04,524.15L681.54,509.65" stroke="#1f77b4" stroke-width="1.05" fill="none"/>
<path d="M675.43,509.65L689.93,524.15M675.43,524.15L689.93,509.65" stroke="#1f77b4" stroke-width="1.05" fill="none"/>
<path d="M683.82,509.65L698.32,524.15M683.82,524.15L698.32,509.65" stroke="#1f77b4" stroke-width="1.05" fill="none"/>
<path d="M692.21,509.65L706.71,524.15M692.21,524.15L706.71,509.65" stroke="#1f77b4" stroke-width="1.05" fill="none"/>
<path d="M700.6,509.65L715.1,524.15M700.6,524.15L715.1,509.65" stroke="#1f77b4" stroke-width="1.05" fill="none"/>
<path d="M708.99,509.65L723.49,524.15M708.99,524.15L723.49,509.65" stroke="#1f77b4" stroke-width="1.05" fill="none"/>
<path d="M717.38,509.65L731.88,524.15M717.38,524.15L731.88,509.65" stroke="#1f77b4" stroke-width="1.05" fill="none"/>
<path d="M725.77,509.65L740.27,524.15M725.77,524.15L740.27,509.65" stroke="#1f77b4" stroke-width="1.05" fill="none"/>
<path d="M734.17,509.65L748.67,524.15M734.17,524.15L748.67,509.65" stroke="#1f77b4" stroke-width="1.05" fill="none"/>
<path d="M742.56,509.65L757.06,524.15M742.56,524.15L757.06,509.65" stroke="#1f77b4" stroke-width="1.05" fill="none"/>
<path d="M750.95,509.65L765.45,524.15M750.95,524.15L765.45,509.65" stroke="#1f77b4" stroke-width="1.05" fill="none"/>
<path d="M759.34,509.65L773.84,524.15M759.34,524.15L773.84,509.65" stroke="#1f77b4" stroke-width="1.05" fill="none"/>
<path d="M767.73,509.65L782.23,524.15M767.73,524.15L782.23,509.65" stroke="#1f77b4" stroke-width="1.05" fill="none"/>
<path d="M776.12,509.65L790.62,524.15M776.12,524.15L790.62,509.65" stroke="#1f77b4" stroke-width="1.05" fill="none"/>
<path d="M784.51,509.65L799.01,524.15M784.51,524.15L799.01,509.65" stroke="#1f77b4" stroke-width="1.05" fill="none"/>
<path d="M792.9,509.65L807.4,524.15M792.9,524.15L807.4,509.65" stroke="#1f77b4" stroke-width="1.05" fill="none"/>
<path d="M801.29,509.65L815.79,524.15M801.29,524.15L815.79,509.65" stroke="#1f77b4" stroke-width="1.05" fill="none"/>
<path d="M809.68,509.65L824.18,524.15M809.68,524.15L824.18,509.65" stroke="#1f77b4" stroke-width="1.05" fill="none"/>
<path d="M818.08,509.65L832.58,524.15M818.08,524.15L832.58,509.65" stroke="#1f77b4" stroke-width="1.05" fill="none"/>
<path d="M826.47,509.65L840.97,524.15M826.47,524.15L840.97,509.65" stroke="#1f77b4" stroke-width="1.05" fill="none"/>
<path d="M834.86,509.65L849.36,524.15M834.86,524.15L849.36,509.65" stroke="#1f77b4" stroke-width="1.05" fill="none"/>
<path d="M843.25,509.65L857.75,524.15M843.25,524.15L857.75,509.65" stroke="#1f77b4" stroke-width="1.05" fill="none"/>
<path d="M851.64,509.65L866.14,524.15M851.64,524.15L866.14,509.65" stroke="#1f77b4" stroke-width="1.05" fill="none"/>
<path d="M860.03,509.65L874.53,524.15M860.03,524.15L874.53,509.65" stroke="#1f77b4" stroke-width="1.05" fill="none"/>
<polyline points="523.25,516.9 696.66,516.9 699.46,506.4 702.26,516.9 707.85,516.9 710.65,506.4 713.45,511.9 716.24,516.9 719.04,506.4 721.84,516.9 724.63,516.9 727.43,495.9 733.02,516.9 735.82,516.9 738.62,506.4 741.42,516.9 747.01,516.9 749.81,506.4 752.6,516.9 755.4,516.9 758.2,454.4 761,516.9 763.79,516.9 766.59,423.15 769.39,444.4 772.18,474.4 774.98,464.4 777.78,465.15 780.57,485.9 783.37,505.65 786.17,402.9 788.97,432.9 791.76,474.9 794.56,443.9 797.36,465.9 800.15,505.9 802.95,465.9 805.75,423.15 808.54,423.15 811.34,444.4 814.14,454.65 816.93,433.4 819.73,494.9 822.53,453.4 825.33,361.9 830.92,413.4 836.51,444.4 839.31,516.9 842.11,516.9 844.9,329.9 847.7,402.9 853.3,423.15 856.09,464.4 858.89,516.9 861.69,516.9 864.48,329.9 867.28,394.9 870.08,423.65 872.88,443.15" fill="none" stroke="#ff7f0e" stroke-width="1.6" stroke-dasharray="5.4 2.3" stroke-linejoin="round"/>
<path d="M523.25,511.9L518.25,521.9L528.25,521.9Z" stroke="#ff7f0e" stroke-width="1.6" fill="none" stroke-linejoin="miter"/>
<path d="M534.44,511.9L529.44,521.9L539.44,521.9Z" stroke="#ff7f0e" stroke-width="1.6" fill="none" stroke-linejoin="miter"/>
<path d="M545.63,511.9L540.63,521.9L550.63,521.9Z" stroke="#ff7f0e" stroke-width="1.6" fill="none" stroke-linejoin="miter"/>
<path d="M556.81,511.9L551.81,521.9L561.81,521.9Z" stroke="#ff7f0e" stroke-width="1.6" fill="none" stroke-linejoin="miter"/>
<path d="M568,511.9L563,521.9L573,521.9Z" stroke="#ff7f0e" stroke-width="1.6" fill="none" stroke-linejoin="miter"/>
<path d="M579.19,511.9L574.19,521.9L584.19,521.9Z" stroke="#ff7f0e" stroke-width="1.6" fill="none" stroke-linejoin="miter"/>
<path d="M590.38,511.9L585.38,521.9L595.38,521.9Z" stroke="#ff7f0e" stroke-width="1.6" fill="none" stroke-linejoin="miter"/>
<path d="M601.57,511.9L596.57,521.9L606.57,521.9Z" stroke="#ff7f0e" stroke-width="1.6" fill="none" stroke-linejoin="miter"/>
<path d="M612.75,511.9L607.75,521.9L617.75,521.9Z" stroke="#ff7f0e" stroke-width="1.6" fill="none" stroke-linejoin="miter"/>
<path d="M623.94,511.9L618.94,521.9L628.94,521.9Z" stroke="#ff7f0e" stroke-width="1.6" fill="none" stroke-linejoin="miter"/>
<path d="M635.13,511.9L630.13,521.9L640.13,521.9Z" stroke="#ff7f0e" stroke-width="1.6" fill="none" stroke-linejoin="miter"/>
<path d="M646.32,511.9L641.32,521.9L651.32,521.9Z" stroke="#ff7f0e" stroke-width="1.6" fill="none" stroke-linejoin="miter"/>
<path d="M657.51,511.9L652.51,521.9L662.51,521.9Z" stroke="#ff7f0e" stroke-width="1.6" fill="none" stroke-linejoin="miter"/>
<path d="M668.69,511.9L663.69,521.9L673.69,521.9Z" stroke="#ff7f0e" stroke-width="1.6" fill="none" stroke-linejoin="miter"/>
<path d="M679.88,511.9L674.88,521.9L684.88,521.9Z" stroke="#ff7f0e" stroke-width="1.6" fill="none" stroke-linejoin="miter"/>
<path d="M691.07,511.9L686.07,521.9L696.07,521.9Z" stroke="#ff7f0e" stroke-width="1.6" fill="none" stroke-linejoin="miter"/>
<path d="M702.26,511.9L697.26,521.9L707.26,521.9Z" stroke="#ff7f0e" stroke-width="1.6" fill="none" stroke-linejoin="miter"/>
<path d="M713.45,506.9L708.45,516.9L718.45,516.9Z" stroke="#ff7f0e" stroke-width="1.6" fill="none" stroke-linejoin="miter"/>
<path d="M724.63,511.9L719.63,521.9L729.63,521.9Z" stroke="#ff7f0e" stroke-width="1.6" fill="none" stroke-linejoin="miter"/>
<path d="M735.82,511.9L730.82,521.9L740.82,521.9Z" stroke="#ff7f0e" stroke-width="1.6" fill="none" stroke-linejoin="miter"/>
<path d="M747.01,511.9L742.01,521.9L752.01,521.9Z" stroke="#ff7f0e" stroke-width="1.6" fill="none" stroke-linejoin="miter"/>
<path d="M758.2,449.4L753.2,459.4L763.2,459.4Z" stroke="#ff7f0e" stroke-width="1.6" fill="none" stroke-linejoin="miter"/>
<path d="M769.39,439.4L764.39,449.4L774.39,449.4Z" stroke="#ff7f0e" stroke-width="1.6" fill="none" stroke-linejoin="miter"/>
<path d="M780.57,480.9L775.57,490.9L785.57,490.9Z" stroke="#ff7f0e" stroke-width="1.6" fill="none" stroke-linejoin="miter"/>
<path d="M791.76,469.9L786.76,479.9L796.76,479.9Z" stroke="#ff7f0e" stroke-width="1.6" fill="none" stroke-linejoin="miter"/>
<path d="M802.95,460.9L797.95,470.9L807.95,470.9Z" stroke="#ff7f0e" stroke-width="1.6" fill="none" stroke-linejoin="miter"/>
<path d="M814.14,449.65L809.14,459.65L819.14,459.65Z" stroke="#ff7f0e" stroke-width="1.6" fill="none" stroke-linejoin="miter"/>
<path d="M825.33,356.9L820.33,366.9L830.33,366.9Z" stroke="#ff7f0e" stroke-width="1.6" fill="none" stroke-linejoin="miter"/>
<path d="M836.51,439.4L831.51,449.4L841.51,449.4Z" stroke="#ff7f0e" stroke-width="1.6" fill="none" stroke-linejoin="miter"/>
<path d="M847.7,397.9L842.7,407.9L852.7,407.9Z" stroke="#ff7f0e" stroke-width="1.6" fill="none" stroke-linejoin="miter"/>
<path d="M858.89,511.9L853.89,521.9L863.89,521.9Z" stroke="#ff7f0e" stroke-width="1.6" fill="none" stroke-linejoin="miter"/>
<path d="M870.08,418.65L865.08,428.65L875.08,428.65Z" stroke="#ff7f0e" stroke-width="1.6" fill="none" stroke-linejoin="miter"/>
<polyline points="523.25,516.9 749.81,516.9 752.6,506.4 755.4,516.9 816.93,516.9 822.53,506.15 830.92,506.15 833.72,515.65 836.51,506.15 839.31,516.9 850.5,516.9 853.3,506.15 856.09,496.15 858.89,516.9 867.28,516.9 872.88,506.15" fill="none" stroke="#2ca02c" stroke-width="0.9" stroke-dasharray="4.6 1.2 0.9 1.2" stroke-linejoin="round"/>
<circle cx="523.25" cy="516.9" r="2.95" stroke="#2ca02c" stroke-width="0.95" fill="none"/>
<circle cx="537.24" cy="516.9" r="2.95" stroke="#2ca02c" stroke-width="0.95" fill="none"/>
<circle cx="551.22" cy="516.9" r="2.95" stroke="#2ca02c" stroke-width="0.95" fill="none"/>
<circle cx="565.21" cy="516.9" r="2.95" stroke="#2ca02c" stroke-width="0.95" fill="none"/>
<circle cx="579.19" cy="516.9" r="2.95" stroke="#2ca02c" stroke-width="0.95" fill="none"/>
<circle cx="593.17" cy="516.9" r="2.95" stroke="#2ca02c" stroke-width="0.95" fill="none"/>
<circle cx="607.16" cy="516.9" r="2.95" stroke="#2ca02c" stroke-width="0.95" fill="none"/>
<circle cx="621.14" cy="516.9" r="2.95" stroke="#2ca02c" stroke-width="0.95" fill="none"/>
<circle cx="635.13" cy="516.9" r="2.95" stroke="#2ca02c" stroke-width="0.95" fill="none"/>
<circle cx="649.12" cy="516.9" r="2.95" stroke="#2ca02c" stroke-width="0.95" fill="none"/>
<circle cx="663.1" cy="516.9" r="2.95" stroke="#2ca02c" stroke-width="0.95" fill="none"/>
<circle cx="677.09" cy="516.9" r="2.95" stroke="#2ca02c" stroke-width="0.95" fill="none"/>
<circle cx="691.07" cy="516.9" r="2.95" stroke="#2ca02c" stroke-width="0.95" fill="none"/>
<circle cx="705.06" cy="516.9" r="2.95" stroke="#2ca02c" stroke-width="0.95" fill="none"/>
<circle cx="719.04" cy="516.9" r="2.95" stroke="#2ca02c" stroke-width="0.95" fill="none"/>
<circle cx="733.02" cy="516.9" r="2.95" stroke="#2ca02c" stroke-width="0.95" fill="none"/>
<circle cx="747.01" cy="516.9" r="2.95" stroke="#2ca02c" stroke-width="0.95" fill="none"/>
<circle cx="761" cy="516.9" r="2.95" stroke="#2ca02c" stroke-width="0.95" fill="none"/>
<circle cx="774.98" cy="516.9" r="2.95" stroke="#2ca02c" stroke-width="0.95" fill="none"/>
<circle cx="788.97" cy="516.9" r="2.95" stroke="#2ca02c" stroke-width="0.95" fill="none"/>
<circle cx="802.95" cy="516.9" r="2.95" stroke="#2ca02c" stroke-width="0.95" fill="none"/>
<circle cx="816.93" cy="516.9" r="2.95" stroke="#2ca02c" stroke-width="0.95" fill="none"/>
<circle cx="830.92" cy="506.15" r="2.95" stroke="#2ca02c" stroke-width="0.95" fill="none"/>
<circle cx="844.9" cy="516.9" r="2.95" stroke="#2ca02c" stroke-width="0.95" fill="none"/>
<circle cx="858.89" cy="516.9" r="2.95" stroke="#2ca02c" stroke-width="0.95" fill="none"/>
<circle cx="872.88" cy="506.15" r="2.95" stroke="#2ca02c" stroke-width="0.95" fill="none"/>
<polyline points="523.25,516.9 755.4,516.9 758.2,485.65 761,516.9 763.79,464.4 766.59,516.9 769.39,474.9 772.18,516.9 774.98,485.4 777.78,475.4 780.57,505.4 783.37,475.4 786.17,505.4 788.97,474.9 791.76,495.65 794.56,480.9 797.36,474.9 800.15,506.15 802.95,464.4 805.75,506.15 808.54,465.15 811.34,495.65 814.14,485.9 816.93,485.4 819.73,495.65 822.53,485.4 828.12,485.4 830.92,495.65 833.72,475.4 836.51,485.4 839.31,485.9 842.11,516.9 844.9,474.9 847.7,506.15 850.5,485.4 853.3,495.65 856.09,485.9 858.89,485.4 861.69,516.9 864.48,474.9 867.28,506.15 870.08,485.4 872.88,495.65" fill="none" stroke="#d62728" stroke-width="1.0" stroke-dasharray="2.7 1.2" stroke-linejoin="round"/>
<path d="M523.25,513.2L524.08,515.76L526.77,515.76L524.59,517.34L525.42,519.89L523.25,518.31L521.08,519.89L521.91,517.34L519.73,515.76L522.42,515.76Z" fill="#d62728" stroke="#d62728" stroke-width="0.7" stroke-linejoin="miter"/>
<path d="M537.24,513.2L538.07,515.76L540.75,515.76L538.58,517.34L539.41,519.89L537.24,518.31L535.06,519.89L535.89,517.34L533.72,515.76L536.4,515.76Z" fill="#d62728" stroke="#d62728" stroke-width="0.7" stroke-linejoin="miter"/>
<path d="M551.22,513.2L552.05,515.76L554.74,515.76L552.56,517.34L553.39,519.89L551.22,518.31L549.05,519.89L549.88,517.34L547.7,515.76L550.39,515.76Z" fill="#d62728" stroke="#d62728" stroke-width="0.7" stroke-linejoin="miter"/>
<path d="M565.21,513.2L566.04,515.76L568.72,515.76L566.55,517.34L567.38,519.89L565.21,518.31L563.03,519.89L563.86,517.34L561.69,515.76L564.37,515.76Z" fill="#d62728" stroke="#d62728" stroke-width="0.7" stroke-linejoin="miter"/>
<path d="M579.19,513.2L580.02,515.76L582.71,515.76L580.53,517.34L581.36,519.89L579.19,518.31L577.02,519.89L577.85,517.34L575.67,515.76L578.36,515.76Z" fill="#d62728" stroke="#d62728" stroke-width="0.7" stroke-linejoin="miter"/>
<path d="M593.17,513.2L594.01,515.76L596.69,515.76L594.52,517.34L595.35,519.89L593.17,518.31L591,519.89L591.83,517.34L589.66,515.76L592.34,515.76Z" fill="#d62728" stroke="#d62728" stroke-width="0.7" stroke-linejoin="miter"/>
<path d="M607.16,513.2L607.99,515.76L610.68,515.76L608.5,517.34L609.33,519.89L607.16,518.31L604.99,519.89L605.82,517.34L603.64,515.76L606.33,515.76Z" fill="#d62728" stroke="#d62728" stroke-width="0.7" stroke-linejoin="miter"/>
<path d="M621.14,513.2L621.98,515.76L624.66,515.76L622.49,517.34L623.32,519.89L621.14,518.31L618.97,519.89L619.8,517.34L617.63,515.76L620.31,515.76Z" fill="#d62728" stroke="#d62728" stroke-width="0.7" stroke-linejoin="miter"/>
<path d="M635.13,513.2L635.96,515.76L638.65,515.76L636.47,517.34L637.3,519.89L635.13,518.31L632.96,519.89L633.79,517.34L631.61,515.76L634.3,515.76Z" fill="#d62728" stroke="#d62728" stroke-width="0.7" stroke-linejoin="miter"/>
<path d="M649.12,513.2L649.95,515.76L652.63,515.76L650.46,517.34L651.29,519.89L649.12,518.31L646.94,519.89L647.77,517.34L645.6,515.76L648.28,515.76Z" fill="#d62728" stroke="#d62728" stroke-width="0.7" stroke-linejoin="miter"/>
<path d="M663.1,513.2L663.93,515.76L666.62,515.76L664.44,517.34L665.27,519.89L663.1,518.31L660.93,519.89L661.76,517.34L659.58,515.76L662.27,515.76Z" fill="#d62728" stroke="#d62728" stroke-width="0.7" stroke-linejoin="miter"/>
<path d="M677.09,513.2L677.92,515.76L680.6,515.76L678.43,517.34L679.26,519.89L677.09,518.31L674.91,519.89L675.74,517.34L673.57,515.76L676.25,515.76Z" fill="#d62728" stroke="#d62728" stroke-width="0.7" stroke-linejoin="miter"/>
<path d="M691.07,513.2L691.9,515.76L694.59,515.76L692.41,517.34L693.24,519.89L691.07,518.31L688.9,519.89L689.73,517.34L687.55,515.76L690.24,515.76Z" fill="#d62728" stroke="#d62728" stroke-width="0.7" stroke-linejoin="miter"/>
<path d="M705.06,513.2L705.89,515.76L708.57,515.76L706.4,517.34L707.23,519.89L705.06,518.31L702.88,519.89L703.71,517.34L701.54,515.76L704.22,515.76Z" fill="#d62728" stroke="#d62728" stroke-width="0.7" stroke-linejoin="miter"/>
<path d="M719.04,513.2L719.87,515.76L722.56,515.76L720.38,517.34L721.21,519.89L719.04,518.31L716.87,519.89L717.7,517.34L715.52,515.76L718.21,515.76Z" fill="#d62728" stroke="#d62728" stroke-width="0.7" stroke-linejoin="miter"/>
<path d="M733.02,513.2L733.86,515.76L736.54,515.76L734.37,517.34L735.2,519.89L733.02,518.31L730.85,519.89L731.68,517.34L729.51,515.76L732.19,515.76Z" fill="#d62728" stroke="#d62728" stroke-width="0.7" stroke-linejoin="miter"/>
<path d="M747.01,513.2L747.84,515.76L750.53,515.76L748.35,517.34L749.18,519.89L747.01,518.31L744.84,519.89L745.67,517.34L743.49,515.76L746.18,515.76Z" fill="#d62728" stroke="#d62728" stroke-width="0.7" stroke-linejoin="miter"/>
<path d="M761,513.2L761.83,515.76L764.51,515.76L762.34,517.34L763.17,519.89L761,518.31L758.82,519.89L759.65,517.34L757.48,515.76L760.16,515.76Z" fill="#d62728" stroke="#d62728" stroke-width="0.7" stroke-linejoin="miter"/>
<path d="M774.98,481.7L775.81,484.26L778.5,484.26L776.32,485.84L777.15,488.39L774.98,486.81L772.81,488.39L773.64,485.84L771.46,484.26L774.15,484.26Z" fill="#d62728" stroke="#d62728" stroke-width="0.7" stroke-linejoin="miter"/>
<path d="M788.97,471.2L789.8,473.76L792.48,473.76L790.31,475.34L791.14,477.89L788.97,476.31L786.79,477.89L787.62,475.34L785.45,473.76L788.13,473.76Z" fill="#d62728" stroke="#d62728" stroke-width="0.7" stroke-linejoin="miter"/>
<path d="M802.95,460.7L803.78,463.26L806.47,463.26L804.29,464.84L805.12,467.39L802.95,465.81L800.78,467.39L801.61,464.84L799.43,463.26L802.12,463.26Z" fill="#d62728" stroke="#d62728" stroke-width="0.7" stroke-linejoin="miter"/>
<path d="M816.93,481.7L817.77,484.26L820.45,484.26L818.28,485.84L819.11,488.39L816.93,486.81L814.76,488.39L815.59,485.84L813.42,484.26L816.1,484.26Z" fill="#d62728" stroke="#d62728" stroke-width="0.7" stroke-linejoin="miter"/>
<path d="M830.92,491.95L831.75,494.51L834.44,494.51L832.26,496.09L833.09,498.64L830.92,497.06L828.75,498.64L829.58,496.09L827.4,494.51L830.09,494.51Z" fill="#d62728" stroke="#d62728" stroke-width="0.7" stroke-linejoin="miter"/>
<path d="M844.9,471.2L845.74,473.76L848.42,473.76L846.25,475.34L847.08,477.89L844.9,476.31L842.73,477.89L843.56,475.34L841.39,473.76L844.07,473.76Z" fill="#d62728" stroke="#d62728" stroke-width="0.7" stroke-linejoin="miter"/>
<path d="M858.89,481.7L859.72,484.26L862.41,484.26L860.23,485.84L861.06,488.39L858.89,486.81L856.72,488.39L857.55,485.84L855.37,484.26L858.06,484.26Z" fill="#d62728" stroke="#d62728" stroke-width="0.7" stroke-linejoin="miter"/>
<path d="M872.88,491.95L873.71,494.51L876.39,494.51L874.22,496.09L875.05,498.64L872.88,497.06L870.7,498.64L871.53,496.09L869.36,494.51L872.04,494.51Z" fill="#d62728" stroke="#d62728" stroke-width="0.7" stroke-linejoin="miter"/>
</g>
<rect x="506.65" y="292.55" width="383.85" height="226.75" fill="none" stroke="#000" stroke-width="1.05"/>
<path d="M506.15,517.4h-3.2M506.15,467.4h-3.2M506.15,417.4h-3.2M506.15,367.4h-3.2M506.15,317.4h-3.2M523.25,519.8v2.3M582,519.8v2.3M640.75,519.8v2.3M699.5,519.8v2.3M758.25,519.8v2.3M817,519.8v2.3" stroke="#000" stroke-width="0.9" fill="none"/>
<text x="500.6" y="519" text-anchor="end">0</text>
<text x="500.6" y="469" text-anchor="end">20</text>
<text x="500.6" y="418" text-anchor="end">40</text>
<text x="500.6" y="370" text-anchor="end">60</text>
<text x="500.6" y="320" text-anchor="end">80</text>
<text x="522.75" y="530" text-anchor="middle">20</text>
<text x="581.5" y="530" text-anchor="middle">40</text>
<text x="640.25" y="530" text-anchor="middle">60</text>
<text x="699" y="530" text-anchor="middle">80</text>
<text x="757.75" y="530" text-anchor="middle">100</text>
<text x="816.5" y="530" text-anchor="middle">120</text>
<text x="697.08" y="540" text-anchor="middle">(#) of VMs</text>
<text transform="translate(486.2,404.12) rotate(-90)" text-anchor="middle" style="font-size:7.36px">PMs with Malicious CoResidency (%)</text>
<rect x="509.6" y="295.55" width="71.2" height="79.2" rx="1.6" ry="1.6" fill="#fff" stroke="#c4c4c4" stroke-opacity="0.9" stroke-width="0.9"/>
<g clip-path="url(#c2)">
<path d="M512.55,302H527.55" stroke="#1f77b4" stroke-width="3.7" stroke-dasharray="3.7 6.1" fill="none"/>
<path d="M512.8,294.75L527.3,309.25M512.8,309.25L527.3,294.75" stroke="#1f77b4" stroke-width="1.05" fill="none"/>
<path d="M512.55,312.87H527.55" stroke="#ff7f0e" stroke-width="1.6" stroke-dasharray="5.4 2.3" fill="none"/>
<path d="M520.05,307.87L515.05,317.87L525.05,317.87Z" stroke="#ff7f0e" stroke-width="1.6" fill="none" stroke-linejoin="miter"/>
<path d="M512.55,323.74H527.55" stroke="#2ca02c" stroke-width="0.9" stroke-dasharray="4.6 1.2 0.9 1.2" fill="none"/>
<circle cx="520.05" cy="323.74" r="2.95" stroke="#2ca02c" stroke-width="0.95" fill="none"/>
<path d="M512.55,334.61H527.55" stroke="#d62728" stroke-width="1.0" stroke-dasharray="2.7 1.2" fill="none"/>
<path d="M520.05,330.91L520.88,333.47L523.57,333.47L521.39,335.05L522.22,337.6L520.05,336.02L517.88,337.6L518.71,335.05L516.53,333.47L519.22,333.47Z" fill="#d62728" stroke="#d62728" stroke-width="0.7" stroke-linejoin="miter"/>
</g>
<rect x="512.15" y="342.68" width="15" height="5.6" fill="#808080"/>
<rect x="512.15" y="353.55" width="15" height="5.6" fill="#d3d3d3"/>
<rect x="512.15" y="364.42" width="15" height="5.6" fill="#f2eeee"/>
<text x="533.1" y="304">SRS</text>
<text x="533.1" y="315">PSSF</text>
<text x="533.1" y="326">Random</text>
<text x="533.1" y="337">RoundRobin</text>
<text x="533.1" y="348">HighHetPMs</text>
<text x="533.1" y="359">MedHetPMs</text>
<text x="533.1" y="369">LowHetPMs</text>
</g>
<g id="chart3" class="ct">
<clipPath id="c3"><rect x="506.65" y="584.55" width="383.85" height="226.75"/></clipPath>
<g clip-path="url(#c3)">
<rect x="522.9" y="582.55" width="17.95" height="228.75" fill="#808080"/>
<rect x="542.48" y="582.55" width="17.95" height="228.75" fill="#d3d3d3"/>
<rect x="562.07" y="582.55" width="17.95" height="228.75" fill="#f2eeee"/>
<rect x="581.65" y="582.55" width="17.95" height="228.75" fill="#808080"/>
<rect x="601.23" y="582.55" width="17.95" height="228.75" fill="#d3d3d3"/>
<rect x="620.82" y="582.55" width="17.95" height="228.75" fill="#f2eeee"/>
<rect x="640.4" y="582.55" width="17.95" height="228.75" fill="#808080"/>
<rect x="659.98" y="582.55" width="17.95" height="228.75" fill="#d3d3d3"/>
<rect x="679.57" y="582.55" width="17.95" height="228.75" fill="#f2eeee"/>
<rect x="699.15" y="582.55" width="17.95" height="228.75" fill="#808080"/>
<rect x="718.73" y="582.55" width="17.95" height="228.75" fill="#d3d3d3"/>
<rect x="738.32" y="582.55" width="17.95" height="228.75" fill="#f2eeee"/>
<rect x="757.9" y="582.55" width="17.95" height="228.75" fill="#808080"/>
<rect x="777.48" y="582.55" width="17.95" height="228.75" fill="#d3d3d3"/>
<rect x="797.07" y="582.55" width="17.95" height="228.75" fill="#f2eeee"/>
<rect x="816.65" y="582.55" width="17.95" height="228.75" fill="#808080"/>
<rect x="836.23" y="582.55" width="17.95" height="228.75" fill="#d3d3d3"/>
<rect x="855.82" y="582.55" width="17.95" height="228.75" fill="#f2eeee"/>
<polyline points="523.25,808.2 872.88,808.2" fill="none" stroke="#1f77b4" stroke-width="3.7" stroke-dasharray="3.7 6.1" stroke-linejoin="round"/>
<path d="M516,800.95L530.5,815.45M516,815.45L530.5,800.95" stroke="#1f77b4" stroke-width="1.05" fill="none"/>
<path d="M524.39,800.95L538.89,815.45M524.39,815.45L538.89,800.95" stroke="#1f77b4" stroke-width="1.05" fill="none"/>
<path d="M532.78,800.95L547.28,815.45M532.78,815.45L547.28,800.95" stroke="#1f77b4" stroke-width="1.05" fill="none"/>
<path d="M541.17,800.95L555.67,815.45M541.17,815.45L555.67,800.95" stroke="#1f77b4" stroke-width="1.05" fill="none"/>
<path d="M549.56,800.95L564.06,815.45M549.56,815.45L564.06,800.95" stroke="#1f77b4" stroke-width="1.05" fill="none"/>
<path d="M557.96,800.95L572.46,815.45M557.96,815.45L572.46,800.95" stroke="#1f77b4" stroke-width="1.05" fill="none"/>
<path d="M566.35,800.95L580.85,815.45M566.35,815.45L580.85,800.95" stroke="#1f77b4" stroke-width="1.05" fill="none"/>
<path d="M574.74,800.95L589.24,815.45M574.74,815.45L589.24,800.95" stroke="#1f77b4" stroke-width="1.05" fill="none"/>
<path d="M583.13,800.95L597.63,815.45M583.13,815.45L597.63,800.95" stroke="#1f77b4" stroke-width="1.05" fill="none"/>
<path d="M591.52,800.95L606.02,815.45M591.52,815.45L606.02,800.95" stroke="#1f77b4" stroke-width="1.05" fill="none"/>
<path d="M599.91,800.95L614.41,815.45M599.91,815.45L614.41,800.95" stroke="#1f77b4" stroke-width="1.05" fill="none"/>
<path d="M608.3,800.95L622.8,815.45M608.3,815.45L622.8,800.95" stroke="#1f77b4" stroke-width="1.05" fill="none"/>
<path d="M616.69,800.95L631.19,815.45M616.69,815.45L631.19,800.95" stroke="#1f77b4" stroke-width="1.05" fill="none"/>
<path d="M625.08,800.95L639.58,815.45M625.08,815.45L639.58,800.95" stroke="#1f77b4" stroke-width="1.05" fill="none"/>
<path d="M633.47,800.95L647.97,815.45M633.47,815.45L647.97,800.95" stroke="#1f77b4" stroke-width="1.05" fill="none"/>
<path d="M641.87,800.95L656.37,815.45M641.87,815.45L656.37,800.95" stroke="#1f77b4" stroke-width="1.05" fill="none"/>
<path d="M650.26,800.95L664.76,815.45M650.26,815.45L664.76,800.95" stroke="#1f77b4" stroke-width="1.05" fill="none"/>
<path d="M658.65,800.95L673.15,815.45M658.65,815.45L673.15,800.95" stroke="#1f77b4" stroke-width="1.05" fill="none"/>
<path d="M667.04,800.95L681.54,815.45M667.04,815.45L681.54,800.95" stroke="#1f77b4" stroke-width="1.05" fill="none"/>
<path d="M675.43,800.95L689.93,815.45M675.43,815.45L689.93,800.95" stroke="#1f77b4" stroke-width="1.05" fill="none"/>
<path d="M683.82,800.95L698.32,815.45M683.82,815.45L698.32,800.95" stroke="#1f77b4" stroke-width="1.05" fill="none"/>
<path d="M692.21,800.95L706.71,815.45M692.21,815.45L706.71,800.95" stroke="#1f77b4" stroke-width="1.05" fill="none"/>
<path d="M700.6,800.95L715.1,815.45M700.6,815.45L715.1,800.95" stroke="#1f77b4" stroke-width="1.05" fill="none"/>
<path d="M708.99,800.95L723.49,815.45M708.99,815.45L723.49,800.95" stroke="#1f77b4" stroke-width="1.05" fill="none"/>
<path d="M717.38,800.95L731.88,815.45M717.38,815.45L731.88,800.95" stroke="#1f77b4" stroke-width="1.05" fill="none"/>
<path d="M725.77,800.95L740.27,815.45M725.77,815.45L740.27,800.95" stroke="#1f77b4" stroke-width="1.05" fill="none"/>
<path d="M734.17,800.95L748.67,815.45M734.17,815.45L748.67,800.95" stroke="#1f77b4" stroke-width="1.05" fill="none"/>
<path d="M742.56,800.95L757.06,815.45M742.56,815.45L757.06,800.95" stroke="#1f77b4" stroke-width="1.05" fill="none"/>
<path d="M750.95,800.95L765.45,815.45M750.95,815.45L765.45,800.95" stroke="#1f77b4" stroke-width="1.05" fill="none"/>
<path d="M759.34,800.95L773.84,815.45M759.34,815.45L773.84,800.95" stroke="#1f77b4" stroke-width="1.05" fill="none"/>
<path d="M767.73,800.95L782.23,815.45M767.73,815.45L782.23,800.95" stroke="#1f77b4" stroke-width="1.05" fill="none"/>
<path d="M776.12,800.95L790.62,815.45M776.12,815.45L790.62,800.95" stroke="#1f77b4" stroke-width="1.05" fill="none"/>
<path d="M784.51,800.95L799.01,815.45M784.51,815.45L799.01,800.95" stroke="#1f77b4" stroke-width="1.05" fill="none"/>
<path d="M792.9,800.95L807.4,815.45M792.9,815.45L807.4,800.95" stroke="#1f77b4" stroke-width="1.05" fill="none"/>
<path d="M801.29,800.95L815.79,815.45M801.29,815.45L815.79,800.95" stroke="#1f77b4" stroke-width="1.05" fill="none"/>
<path d="M809.68,800.95L824.18,815.45M809.68,815.45L824.18,800.95" stroke="#1f77b4" stroke-width="1.05" fill="none"/>
<path d="M818.08,800.95L832.58,815.45M818.08,815.45L832.58,800.95" stroke="#1f77b4" stroke-width="1.05" fill="none"/>
<path d="M826.47,800.95L840.97,815.45M826.47,815.45L840.97,800.95" stroke="#1f77b4" stroke-width="1.05" fill="none"/>
<path d="M834.86,800.95L849.36,815.45M834.86,815.45L849.36,800.95" stroke="#1f77b4" stroke-width="1.05" fill="none"/>
<path d="M843.25,800.95L857.75,815.45M843.25,815.45L857.75,800.95" stroke="#1f77b4" stroke-width="1.05" fill="none"/>
<path d="M851.64,800.95L866.14,815.45M851.64,815.45L866.14,800.95" stroke="#1f77b4" stroke-width="1.05" fill="none"/>
<path d="M860.03,800.95L874.53,815.45M860.03,815.45L874.53,800.95" stroke="#1f77b4" stroke-width="1.05" fill="none"/>
<polyline points="523.25,808.2 755.4,808.2 758.2,798.25 761,808.2 766.59,808.2 769.39,798.25 772.18,808.2 774.98,808.2 777.78,797.75 780.57,808.2 791.76,808.2 794.56,797.75 797.36,808.2 814.14,808.2 816.93,767.16 819.73,808.2 853.3,808.2 856.09,787.8 858.89,808.2 872.88,808.2" fill="none" stroke="#ff7f0e" stroke-width="0.9" stroke-dasharray="2.9 1.25" stroke-linejoin="round"/>
<path d="M523.25,803.2L518.25,813.2L528.25,813.2Z" stroke="#ff7f0e" stroke-width="1.35" fill="none" stroke-linejoin="miter"/>
<path d="M534.44,803.2L529.44,813.2L539.44,813.2Z" stroke="#ff7f0e" stroke-width="1.35" fill="none" stroke-linejoin="miter"/>
<path d="M545.63,803.2L540.63,813.2L550.63,813.2Z" stroke="#ff7f0e" stroke-width="1.35" fill="none" stroke-linejoin="miter"/>
<path d="M556.81,803.2L551.81,813.2L561.81,813.2Z" stroke="#ff7f0e" stroke-width="1.35" fill="none" stroke-linejoin="miter"/>
<path d="M568,803.2L563,813.2L573,813.2Z" stroke="#ff7f0e" stroke-width="1.35" fill="none" stroke-linejoin="miter"/>
<path d="M579.19,803.2L574.19,813.2L584.19,813.2Z" stroke="#ff7f0e" stroke-width="1.35" fill="none" stroke-linejoin="miter"/>
<path d="M590.38,803.2L585.38,813.2L595.38,813.2Z" stroke="#ff7f0e" stroke-width="1.35" fill="none" stroke-linejoin="miter"/>
<path d="M601.57,803.2L596.57,813.2L606.57,813.2Z" stroke="#ff7f0e" stroke-width="1.35" fill="none" stroke-linejoin="miter"/>
<path d="M612.75,803.2L607.75,813.2L617.75,813.2Z" stroke="#ff7f0e" stroke-width="1.35" fill="none" stroke-linejoin="miter"/>
<path d="M623.94,803.2L618.94,813.2L628.94,813.2Z" stroke="#ff7f0e" stroke-width="1.35" fill="none" stroke-linejoin="miter"/>
<path d="M635.13,803.2L630.13,813.2L640.13,813.2Z" stroke="#ff7f0e" stroke-width="1.35" fill="none" stroke-linejoin="miter"/>
<path d="M646.32,803.2L641.32,813.2L651.32,813.2Z" stroke="#ff7f0e" stroke-width="1.35" fill="none" stroke-linejoin="miter"/>
<path d="M657.51,803.2L652.51,813.2L662.51,813.2Z" stroke="#ff7f0e" stroke-width="1.35" fill="none" stroke-linejoin="miter"/>
<path d="M668.69,803.2L663.69,813.2L673.69,813.2Z" stroke="#ff7f0e" stroke-width="1.35" fill="none" stroke-linejoin="miter"/>
<path d="M679.88,803.2L674.88,813.2L684.88,813.2Z" stroke="#ff7f0e" stroke-width="1.35" fill="none" stroke-linejoin="miter"/>
<path d="M691.07,803.2L686.07,813.2L696.07,813.2Z" stroke="#ff7f0e" stroke-width="1.35" fill="none" stroke-linejoin="miter"/>
<path d="M702.26,803.2L697.26,813.2L707.26,813.2Z" stroke="#ff7f0e" stroke-width="1.35" fill="none" stroke-linejoin="miter"/>
<path d="M713.45,803.2L708.45,813.2L718.45,813.2Z" stroke="#ff7f0e" stroke-width="1.35" fill="none" stroke-linejoin="miter"/>
<path d="M724.63,803.2L719.63,813.2L729.63,813.2Z" stroke="#ff7f0e" stroke-width="1.35" fill="none" stroke-linejoin="miter"/>
<path d="M735.82,803.2L730.82,813.2L740.82,813.2Z" stroke="#ff7f0e" stroke-width="1.35" fill="none" stroke-linejoin="miter"/>
<path d="M747.01,803.2L742.01,813.2L752.01,813.2Z" stroke="#ff7f0e" stroke-width="1.35" fill="none" stroke-linejoin="miter"/>
<path d="M758.2,793.25L753.2,803.25L763.2,803.25Z" stroke="#ff7f0e" stroke-width="1.35" fill="none" stroke-linejoin="miter"/>
<path d="M769.39,793.25L764.39,803.25L774.39,803.25Z" stroke="#ff7f0e" stroke-width="1.35" fill="none" stroke-linejoin="miter"/>
<path d="M780.57,803.2L775.57,813.2L785.57,813.2Z" stroke="#ff7f0e" stroke-width="1.35" fill="none" stroke-linejoin="miter"/>
<path d="M791.76,803.2L786.76,813.2L796.76,813.2Z" stroke="#ff7f0e" stroke-width="1.35" fill="none" stroke-linejoin="miter"/>
<path d="M802.95,803.2L797.95,813.2L807.95,813.2Z" stroke="#ff7f0e" stroke-width="1.35" fill="none" stroke-linejoin="miter"/>
<path d="M814.14,803.2L809.14,813.2L819.14,813.2Z" stroke="#ff7f0e" stroke-width="1.35" fill="none" stroke-linejoin="miter"/>
<path d="M825.33,803.2L820.33,813.2L830.33,813.2Z" stroke="#ff7f0e" stroke-width="1.35" fill="none" stroke-linejoin="miter"/>
<path d="M836.51,803.2L831.51,813.2L841.51,813.2Z" stroke="#ff7f0e" stroke-width="1.35" fill="none" stroke-linejoin="miter"/>
<path d="M847.7,803.2L842.7,813.2L852.7,813.2Z" stroke="#ff7f0e" stroke-width="1.35" fill="none" stroke-linejoin="miter"/>
<path d="M858.89,803.2L853.89,813.2L863.89,813.2Z" stroke="#ff7f0e" stroke-width="1.35" fill="none" stroke-linejoin="miter"/>
<path d="M870.08,803.2L865.08,813.2L875.08,813.2Z" stroke="#ff7f0e" stroke-width="1.35" fill="none" stroke-linejoin="miter"/>
<polyline points="523.25,808.2 707.85,808.2 710.65,756.21 713.45,808.2 716.24,808.2 719.04,798 721.84,808.2 724.63,808.2 727.43,797.75 730.23,808.2 735.82,808.2 738.62,797.75 741.42,808.2 744.21,797.75 747.01,808.2 755.4,808.2 758.2,755.96 761,808.2 766.59,704.22 769.39,766.16 774.98,756.46 779.18,808.2 783.37,808.2 788.97,714.92 794.56,808.2 797.36,746.76 800.15,808.2 802.95,756.46 811.34,808.2 816.93,746.01 819.73,808.2 825.33,735.81 828.12,755.96 830.92,704.22 833.72,755.96 839.31,808.2 844.9,694.02 847.7,725.61 850.5,725.61 856.09,808.2 858.89,797.75 867.28,704.22 872.88,766.91" fill="none" stroke="#2ca02c" stroke-width="0.9" stroke-dasharray="4.6 1.2 0.9 1.2" stroke-linejoin="round"/>
<circle cx="523.25" cy="808.2" r="2.95" stroke="#2ca02c" stroke-width="0.95" fill="none"/>
<circle cx="537.24" cy="808.2" r="2.95" stroke="#2ca02c" stroke-width="0.95" fill="none"/>
<circle cx="551.22" cy="808.2" r="2.95" stroke="#2ca02c" stroke-width="0.95" fill="none"/>
<circle cx="565.21" cy="808.2" r="2.95" stroke="#2ca02c" stroke-width="0.95" fill="none"/>
<circle cx="579.19" cy="808.2" r="2.95" stroke="#2ca02c" stroke-width="0.95" fill="none"/>
<circle cx="593.17" cy="808.2" r="2.95" stroke="#2ca02c" stroke-width="0.95" fill="none"/>
<circle cx="607.16" cy="808.2" r="2.95" stroke="#2ca02c" stroke-width="0.95" fill="none"/>
<circle cx="621.14" cy="808.2" r="2.95" stroke="#2ca02c" stroke-width="0.95" fill="none"/>
<circle cx="635.13" cy="808.2" r="2.95" stroke="#2ca02c" stroke-width="0.95" fill="none"/>
<circle cx="649.12" cy="808.2" r="2.95" stroke="#2ca02c" stroke-width="0.95" fill="none"/>
<circle cx="663.1" cy="808.2" r="2.95" stroke="#2ca02c" stroke-width="0.95" fill="none"/>
<circle cx="677.09" cy="808.2" r="2.95" stroke="#2ca02c" stroke-width="0.95" fill="none"/>
<circle cx="691.07" cy="808.2" r="2.95" stroke="#2ca02c" stroke-width="0.95" fill="none"/>
<circle cx="705.06" cy="808.2" r="2.95" stroke="#2ca02c" stroke-width="0.95" fill="none"/>
<circle cx="719.04" cy="798" r="2.95" stroke="#2ca02c" stroke-width="0.95" fill="none"/>
<circle cx="733.02" cy="808.2" r="2.95" stroke="#2ca02c" stroke-width="0.95" fill="none"/>
<circle cx="747.01" cy="808.2" r="2.95" stroke="#2ca02c" stroke-width="0.95" fill="none"/>
<circle cx="761" cy="808.2" r="2.95" stroke="#2ca02c" stroke-width="0.95" fill="none"/>
<circle cx="774.98" cy="756.46" r="2.95" stroke="#2ca02c" stroke-width="0.95" fill="none"/>
<circle cx="788.97" cy="714.92" r="2.95" stroke="#2ca02c" stroke-width="0.95" fill="none"/>
<circle cx="802.95" cy="756.46" r="2.95" stroke="#2ca02c" stroke-width="0.95" fill="none"/>
<circle cx="816.93" cy="746.01" r="2.95" stroke="#2ca02c" stroke-width="0.95" fill="none"/>
<circle cx="830.92" cy="704.22" r="2.95" stroke="#2ca02c" stroke-width="0.95" fill="none"/>
<circle cx="844.9" cy="694.02" r="2.95" stroke="#2ca02c" stroke-width="0.95" fill="none"/>
<circle cx="858.89" cy="797.75" r="2.95" stroke="#2ca02c" stroke-width="0.95" fill="none"/>
<circle cx="872.88" cy="766.91" r="2.95" stroke="#2ca02c" stroke-width="0.95" fill="none"/>
<polyline points="523.25,808.2 579.19,808.2 581.99,777.11 584.78,797.75 590.38,758.95 593.17,756.21 595.97,758.95 604.36,797.75 607.16,787.55 612.75,777.85 615.55,787.55 618.35,787.55 621.14,777.11 623.94,797.01 628.14,787.55 632.33,777.11 635.13,787.55 637.93,786.81 640.72,756.21 643.52,777.11 649.12,766.66 651.91,736.31 654.71,777.11 660.3,735.56 663.1,777.11 667.3,766.66 671.49,735.56 674.29,777.11 677.09,766.66 679.88,736.31 682.68,777.11 691.07,735.56 693.87,777.11 699.46,735.56 702.26,756.21 705.06,746.01 707.85,715.42 710.65,725.12 713.45,725.12 716.24,735.56 719.04,704.47 721.84,756.21 724.63,714.67 730.23,683.82 733.02,725.12 735.82,704.47 738.62,704.72 741.42,746.01 747.01,694.02 749.81,683.82 754,714.17 755.4,704.97 761,756.46 766.59,683.82 769.39,704.22 774.98,714.92 777.78,673.63 780.57,704.22 786.17,632.33 788.97,642.03 791.76,672.63 794.56,663.43 800.15,714.17 802.95,683.82 805.75,652.73 808.54,652.73 811.34,672.63 814.14,663.43 816.93,735.81 819.73,735.81 825.33,673.63 830.92,725.61 839.31,746.01 844.9,600.74 856.09,704.22 858.89,746.26 864.48,621.64 870.08,663.43 872.88,694.02" fill="none" stroke="#d62728" stroke-width="1.0" stroke-dasharray="2.7 1.2" stroke-linejoin="round"/>
<path d="M523.25,804.5L524.08,807.06L526.77,807.06L524.59,808.64L525.42,811.19L523.25,809.61L521.08,811.19L521.91,808.64L519.73,807.06L522.42,807.06Z" fill="#d62728" stroke="#d62728" stroke-width="0.7" stroke-linejoin="miter"/>
<path d="M537.24,804.5L538.07,807.06L540.75,807.06L538.58,808.64L539.41,811.19L537.24,809.61L535.06,811.19L535.89,808.64L533.72,807.06L536.4,807.06Z" fill="#d62728" stroke="#d62728" stroke-width="0.7" stroke-linejoin="miter"/>
<path d="M551.22,804.5L552.05,807.06L554.74,807.06L552.56,808.64L553.39,811.19L551.22,809.61L549.05,811.19L549.88,808.64L547.7,807.06L550.39,807.06Z" fill="#d62728" stroke="#d62728" stroke-width="0.7" stroke-linejoin="miter"/>
<path d="M565.21,804.5L566.04,807.06L568.72,807.06L566.55,808.64L567.38,811.19L565.21,809.61L563.03,811.19L563.86,808.64L561.69,807.06L564.37,807.06Z" fill="#d62728" stroke="#d62728" stroke-width="0.7" stroke-linejoin="miter"/>
<path d="M579.19,804.5L580.02,807.06L582.71,807.06L580.53,808.64L581.36,811.19L579.19,809.61L577.02,811.19L577.85,808.64L575.67,807.06L578.36,807.06Z" fill="#d62728" stroke="#d62728" stroke-width="0.7" stroke-linejoin="miter"/>
<path d="M593.17,752.51L594.01,755.07L596.69,755.07L594.52,756.65L595.35,759.2L593.17,757.62L591,759.2L591.83,756.65L589.66,755.07L592.34,755.07Z" fill="#d62728" stroke="#d62728" stroke-width="0.7" stroke-linejoin="miter"/>
<path d="M607.16,783.85L607.99,786.41L610.68,786.41L608.5,787.99L609.33,790.55L607.16,788.97L604.99,790.55L605.82,787.99L603.64,786.41L606.33,786.41Z" fill="#d62728" stroke="#d62728" stroke-width="0.7" stroke-linejoin="miter"/>
<path d="M621.14,773.41L621.98,775.96L624.66,775.96L622.49,777.54L623.32,780.1L621.14,778.52L618.97,780.1L619.8,777.54L617.63,775.96L620.31,775.96Z" fill="#d62728" stroke="#d62728" stroke-width="0.7" stroke-linejoin="miter"/>
<path d="M635.13,783.85L635.96,786.41L638.65,786.41L636.47,787.99L637.3,790.55L635.13,788.97L632.96,790.55L633.79,787.99L631.61,786.41L634.3,786.41Z" fill="#d62728" stroke="#d62728" stroke-width="0.7" stroke-linejoin="miter"/>
<path d="M649.12,762.96L649.95,765.52L652.63,765.52L650.46,767.1L651.29,769.65L649.12,768.07L646.94,769.65L647.77,767.1L645.6,765.52L648.28,765.52Z" fill="#d62728" stroke="#d62728" stroke-width="0.7" stroke-linejoin="miter"/>
<path d="M663.1,773.41L663.93,775.96L666.62,775.96L664.44,777.54L665.27,780.1L663.1,778.52L660.93,780.1L661.76,777.54L659.58,775.96L662.27,775.96Z" fill="#d62728" stroke="#d62728" stroke-width="0.7" stroke-linejoin="miter"/>
<path d="M677.09,762.96L677.92,765.52L680.6,765.52L678.43,767.1L679.26,769.65L677.09,768.07L674.91,769.65L675.74,767.1L673.57,765.52L676.25,765.52Z" fill="#d62728" stroke="#d62728" stroke-width="0.7" stroke-linejoin="miter"/>
<path d="M691.07,731.86L691.9,734.42L694.59,734.42L692.41,736L693.24,738.56L691.07,736.98L688.9,738.56L689.73,736L687.55,734.42L690.24,734.42Z" fill="#d62728" stroke="#d62728" stroke-width="0.7" stroke-linejoin="miter"/>
<path d="M705.06,742.31L705.89,744.87L708.57,744.87L706.4,746.45L707.23,749.01L705.06,747.43L702.88,749.01L703.71,746.45L701.54,744.87L704.22,744.87Z" fill="#d62728" stroke="#d62728" stroke-width="0.7" stroke-linejoin="miter"/>
<path d="M719.04,700.77L719.87,703.33L722.56,703.33L720.38,704.91L721.21,707.46L719.04,705.88L716.87,707.46L717.7,704.91L715.52,703.33L718.21,703.33Z" fill="#d62728" stroke="#d62728" stroke-width="0.7" stroke-linejoin="miter"/>
<path d="M733.02,721.42L733.86,723.97L736.54,723.97L734.37,725.55L735.2,728.11L733.02,726.53L730.85,728.11L731.68,725.55L729.51,723.97L732.19,723.97Z" fill="#d62728" stroke="#d62728" stroke-width="0.7" stroke-linejoin="miter"/>
<path d="M747.01,690.32L747.84,692.88L750.53,692.88L748.35,694.46L749.18,697.02L747.01,695.44L744.84,697.02L745.67,694.46L743.49,692.88L746.18,692.88Z" fill="#d62728" stroke="#d62728" stroke-width="0.7" stroke-linejoin="miter"/>
<path d="M761,752.76L761.83,755.32L764.51,755.32L762.34,756.9L763.17,759.45L761,757.87L758.82,759.45L759.65,756.9L757.48,755.32L760.16,755.32Z" fill="#d62728" stroke="#d62728" stroke-width="0.7" stroke-linejoin="miter"/>
<path d="M774.98,711.22L775.81,713.78L778.5,713.78L776.32,715.36L777.15,717.91L774.98,716.33L772.81,717.91L773.64,715.36L771.46,713.78L774.15,713.78Z" fill="#d62728" stroke="#d62728" stroke-width="0.7" stroke-linejoin="miter"/>
<path d="M788.97,638.33L789.8,640.89L792.48,640.89L790.31,642.47L791.14,645.03L788.97,643.45L786.79,645.03L787.62,642.47L785.45,640.89L788.13,640.89Z" fill="#d62728" stroke="#d62728" stroke-width="0.7" stroke-linejoin="miter"/>
<path d="M802.95,680.12L803.78,682.68L806.47,682.68L804.29,684.26L805.12,686.82L802.95,685.24L800.78,686.82L801.61,684.26L799.43,682.68L802.12,682.68Z" fill="#d62728" stroke="#d62728" stroke-width="0.7" stroke-linejoin="miter"/>
<path d="M816.93,732.11L817.77,734.67L820.45,734.67L818.28,736.25L819.11,738.81L816.93,737.23L814.76,738.81L815.59,736.25L813.42,734.67L816.1,734.67Z" fill="#d62728" stroke="#d62728" stroke-width="0.7" stroke-linejoin="miter"/>
<path d="M830.92,721.91L831.75,724.47L834.44,724.47L832.26,726.05L833.09,728.61L830.92,727.03L828.75,728.61L829.58,726.05L827.4,724.47L830.09,724.47Z" fill="#d62728" stroke="#d62728" stroke-width="0.7" stroke-linejoin="miter"/>
<path d="M844.9,597.04L845.74,599.6L848.42,599.6L846.25,601.18L847.08,603.74L844.9,602.16L842.73,603.74L843.56,601.18L841.39,599.6L844.07,599.6Z" fill="#d62728" stroke="#d62728" stroke-width="0.7" stroke-linejoin="miter"/>
<path d="M858.89,742.56L859.72,745.12L862.41,745.12L860.23,746.7L861.06,749.25L858.89,747.67L856.72,749.25L857.55,746.7L855.37,745.12L858.06,745.12Z" fill="#d62728" stroke="#d62728" stroke-width="0.7" stroke-linejoin="miter"/>
<path d="M872.88,690.32L873.71,692.88L876.39,692.88L874.22,694.46L875.05,697.02L872.88,695.44L870.7,697.02L871.53,694.46L869.36,692.88L872.04,692.88Z" fill="#d62728" stroke="#d62728" stroke-width="0.7" stroke-linejoin="miter"/>
</g>
<rect x="506.65" y="584.55" width="383.85" height="226.75" fill="none" stroke="#000" stroke-width="1.05"/>
<path d="M506.15,808.3h-3.2M506.15,758.55h-3.2M506.15,708.8h-3.2M506.15,659.05h-3.2M506.15,609.3h-3.2M523.25,811.8v2.3M582,811.8v2.3M640.75,811.8v2.3M699.5,811.8v2.3M758.25,811.8v2.3M817,811.8v2.3" stroke="#000" stroke-width="0.9" fill="none"/>
<text x="500.6" y="811" text-anchor="end">0</text>
<text x="500.6" y="760" text-anchor="end">20</text>
<text x="500.6" y="710" text-anchor="end">40</text>
<text x="500.6" y="661" text-anchor="end">60</text>
<text x="500.6" y="611" text-anchor="end">80</text>
<text x="522.75" y="821" text-anchor="middle">20</text>
<text x="581.5" y="821" text-anchor="middle">40</text>
<text x="640.25" y="821" text-anchor="middle">60</text>
<text x="699" y="821" text-anchor="middle">80</text>
<text x="757.75" y="821" text-anchor="middle">100</text>
<text x="816.5" y="821" text-anchor="middle">120</text>
<text x="697.08" y="831" text-anchor="middle">(#) of VMs</text>
<text transform="translate(486.2,696.12) rotate(-90)" text-anchor="middle" style="font-size:7.36px">PMs with Malicious CoResidency (%)</text>
<rect x="509.6" y="587.55" width="71.2" height="79.2" rx="1.6" ry="1.6" fill="#fff" stroke="#c4c4c4" stroke-opacity="0.9" stroke-width="0.9"/>
<g clip-path="url(#c3)">
<path d="M512.55,594H527.55" stroke="#1f77b4" stroke-width="3.7" stroke-dasharray="3.7 6.1" fill="none"/>
<path d="M512.8,586.75L527.3,601.25M512.8,601.25L527.3,586.75" stroke="#1f77b4" stroke-width="1.05" fill="none"/>
<path d="M512.55,604.87H527.55" stroke="#ff7f0e" stroke-width="0.9" stroke-dasharray="2.9 1.25" fill="none"/>
<path d="M520.05,599.87L515.05,609.87L525.05,609.87Z" stroke="#ff7f0e" stroke-width="1.35" fill="none" stroke-linejoin="miter"/>
<path d="M512.55,615.74H527.55" stroke="#2ca02c" stroke-width="0.9" stroke-dasharray="4.6 1.2 0.9 1.2" fill="none"/>
<circle cx="520.05" cy="615.74" r="2.95" stroke="#2ca02c" stroke-width="0.95" fill="none"/>
<path d="M512.55,626.61H527.55" stroke="#d62728" stroke-width="1.0" stroke-dasharray="2.7 1.2" fill="none"/>
<path d="M520.05,622.91L520.88,625.47L523.57,625.47L521.39,627.05L522.22,629.6L520.05,628.02L517.88,629.6L518.71,627.05L516.53,625.47L519.22,625.47Z" fill="#d62728" stroke="#d62728" stroke-width="0.7" stroke-linejoin="miter"/>
</g>
<rect x="512.15" y="634.68" width="15" height="5.6" fill="#808080"/>
<rect x="512.15" y="645.55" width="15" height="5.6" fill="#d3d3d3"/>
<rect x="512.15" y="656.42" width="15" height="5.6" fill="#f2eeee"/>
<text x="533.1" y="596">SRS</text>
<text x="533.1" y="607">PSSF</text>
<text x="533.1" y="618">Random</text>
<text x="533.1" y="629">RoundRobin</text>
<text x="533.1" y="640">HighHetPMs</text>
<text x="533.1" y="651">MedHetPMs</text>
<text x="533.1" y="661">LowHetPMs</text>
</g>
<defs>
<filter id="fb" filterUnits="userSpaceOnUse" x="0" y="570" width="901" height="100"><feMorphology operator="dilate" radius="5 7"/></filter>
<filter id="fs" filterUnits="userSpaceOnUse" x="0" y="675" width="901" height="45"><feMorphology in="SourceGraphic" operator="dilate" radius="1" result="a"/><feMorphology in="SourceGraphic" operator="dilate" radius="1 2" result="b"/><feComponentTransfer in="b" result="c"><feFuncA type="linear" slope="0.55"/></feComponentTransfer><feMerge><feMergeNode in="c"/><feMergeNode in="a"/></feMerge></filter>
<clipPath id="wc2"><path clip-rule="evenodd" d="M0,0H901V1063H0ZM506.1,292H891V519.9H506.1Z"/></clipPath>
<clipPath id="wc3"><path clip-rule="evenodd" d="M0,0H901V1063H0ZM506.1,780H556V818H506.1Z"/></clipPath>
</defs>
<g id="watermark" opacity="0.1" fill="#0a2a20" stroke="none">
<polygon points="400.4,452.3 290,584.4 311.2,584.4 402.6,462.6"/>
<g clip-path="url(#wc2)"><polygon points="400.4,452.3 419.9,461.2 454.8,471.2 479.8,481.2 494.8,490 504.8,499.5 512,508 521,515 530,515.9 540,517.1 557.8,519.4 575.5,523.3 593.3,532.2 611,541.1 628.8,548 646.6,553.3 664.3,557.1 685,561.3 677.5,565 664.3,562.5 646.6,558.7 628.8,553.4 611,546.5 593.3,537.6 575.5,528.7 557.8,524.8 540,522.5 530,521.3 517,519.5 508,512.5 501.5,503.5 492.3,493.7 479.8,486.2 454.8,476.2 419.9,467.5 402.6,462.6"/></g>
<polygon points="676,563 683,563 674.28,584.4 666.58,584.4"/>
<polygon points="634.51,657.3 644.59,657.3 635.15,680.5 624.3,680.5"/>
<polygon points="610,713 621.91,713 571,838 555,838"/>
<polygon points="510.12,523 515.62,523 477.9,584.4 471.7,584.4"/>
<polygon points="426.54,656.6 433.54,656.6 418.61,681 411.21,681"/>
<polygon points="390.29,712.8 400.09,712.8 373.35,756.5 362.85,756.5"/>
<polygon points="438.3,635.5 445.5,635.5 438.3,646"/>
<path d="M259.6,618.5 L215.4,667.4 L226,674.5 L237.5,679.4 L250,681.2 L260,681.9 L260,679.9 L250,676.2 L237.5,670.4 L232.5,667.3 L260,634 Z"/>
<path d="M302.5,713 L333.7,713 Q354,728 362.5,753.5 L372.4,757.4 L366.2,770.4 L351,760 Q338,734 302.5,713.8 Z"/>
<g clip-path="url(#wc3)"><polygon points="372.4,757.4 389.9,755.4 414.9,758.7 439.9,768.7 464.8,782.4 489.8,796.2 507.3,807.4 530,822 552,834 571,842 562,846 552,845.5 535.5,841 514.8,832.4 489.8,817.4 464.8,799.9 439.9,783.7 414.9,772.4 389.9,767.4 366.2,770.4"/></g>
<g class="wt" filter="url(#fb)" style="font-size:62.14px">
<text y="643.3"><tspan x="2.99" textLength="109.36" lengthAdjust="spacingAndGlyphs">S</tspan><tspan x="107.44" textLength="91.35" lengthAdjust="spacingAndGlyphs">C</tspan><tspan x="195" textLength="37.75" lengthAdjust="spacingAndGlyphs">I</tspan><tspan x="234.65" textLength="79.2" lengthAdjust="spacingAndGlyphs">T</tspan><tspan x="308.71" textLength="110.64" lengthAdjust="spacingAndGlyphs">E</tspan><tspan x="397.88" textLength="109.27" lengthAdjust="spacingAndGlyphs">P</tspan><tspan x="498.95" textLength="101.93" lengthAdjust="spacingAndGlyphs">R</tspan><tspan x="588.49" textLength="106.58" lengthAdjust="spacingAndGlyphs">E</tspan><tspan x="684.5" textLength="110.73" lengthAdjust="spacingAndGlyphs">S</tspan><tspan x="784.55" textLength="106.76" lengthAdjust="spacingAndGlyphs">S</tspan></text>
</g>
<g class="wt" filter="url(#fs)" style="font-size:21.67px;letter-spacing:-0.11em">
<text transform="translate(9.86,705) scale(2.3032,1)">SCIENCE</text>
<text transform="translate(204.73,705) scale(1.9677,1)">AND</text>
<text transform="translate(301.19,705) scale(2.1252,1)">TECHNOLOGY</text>
<text transform="translate(587.29,705) scale(2.2708,1)">PUBLICATIONS</text>
</g>
</g>
<rect x="239" y="1061.6" width="34" height="1.4" fill="#000"/>
</svg>
</body>
</html>
